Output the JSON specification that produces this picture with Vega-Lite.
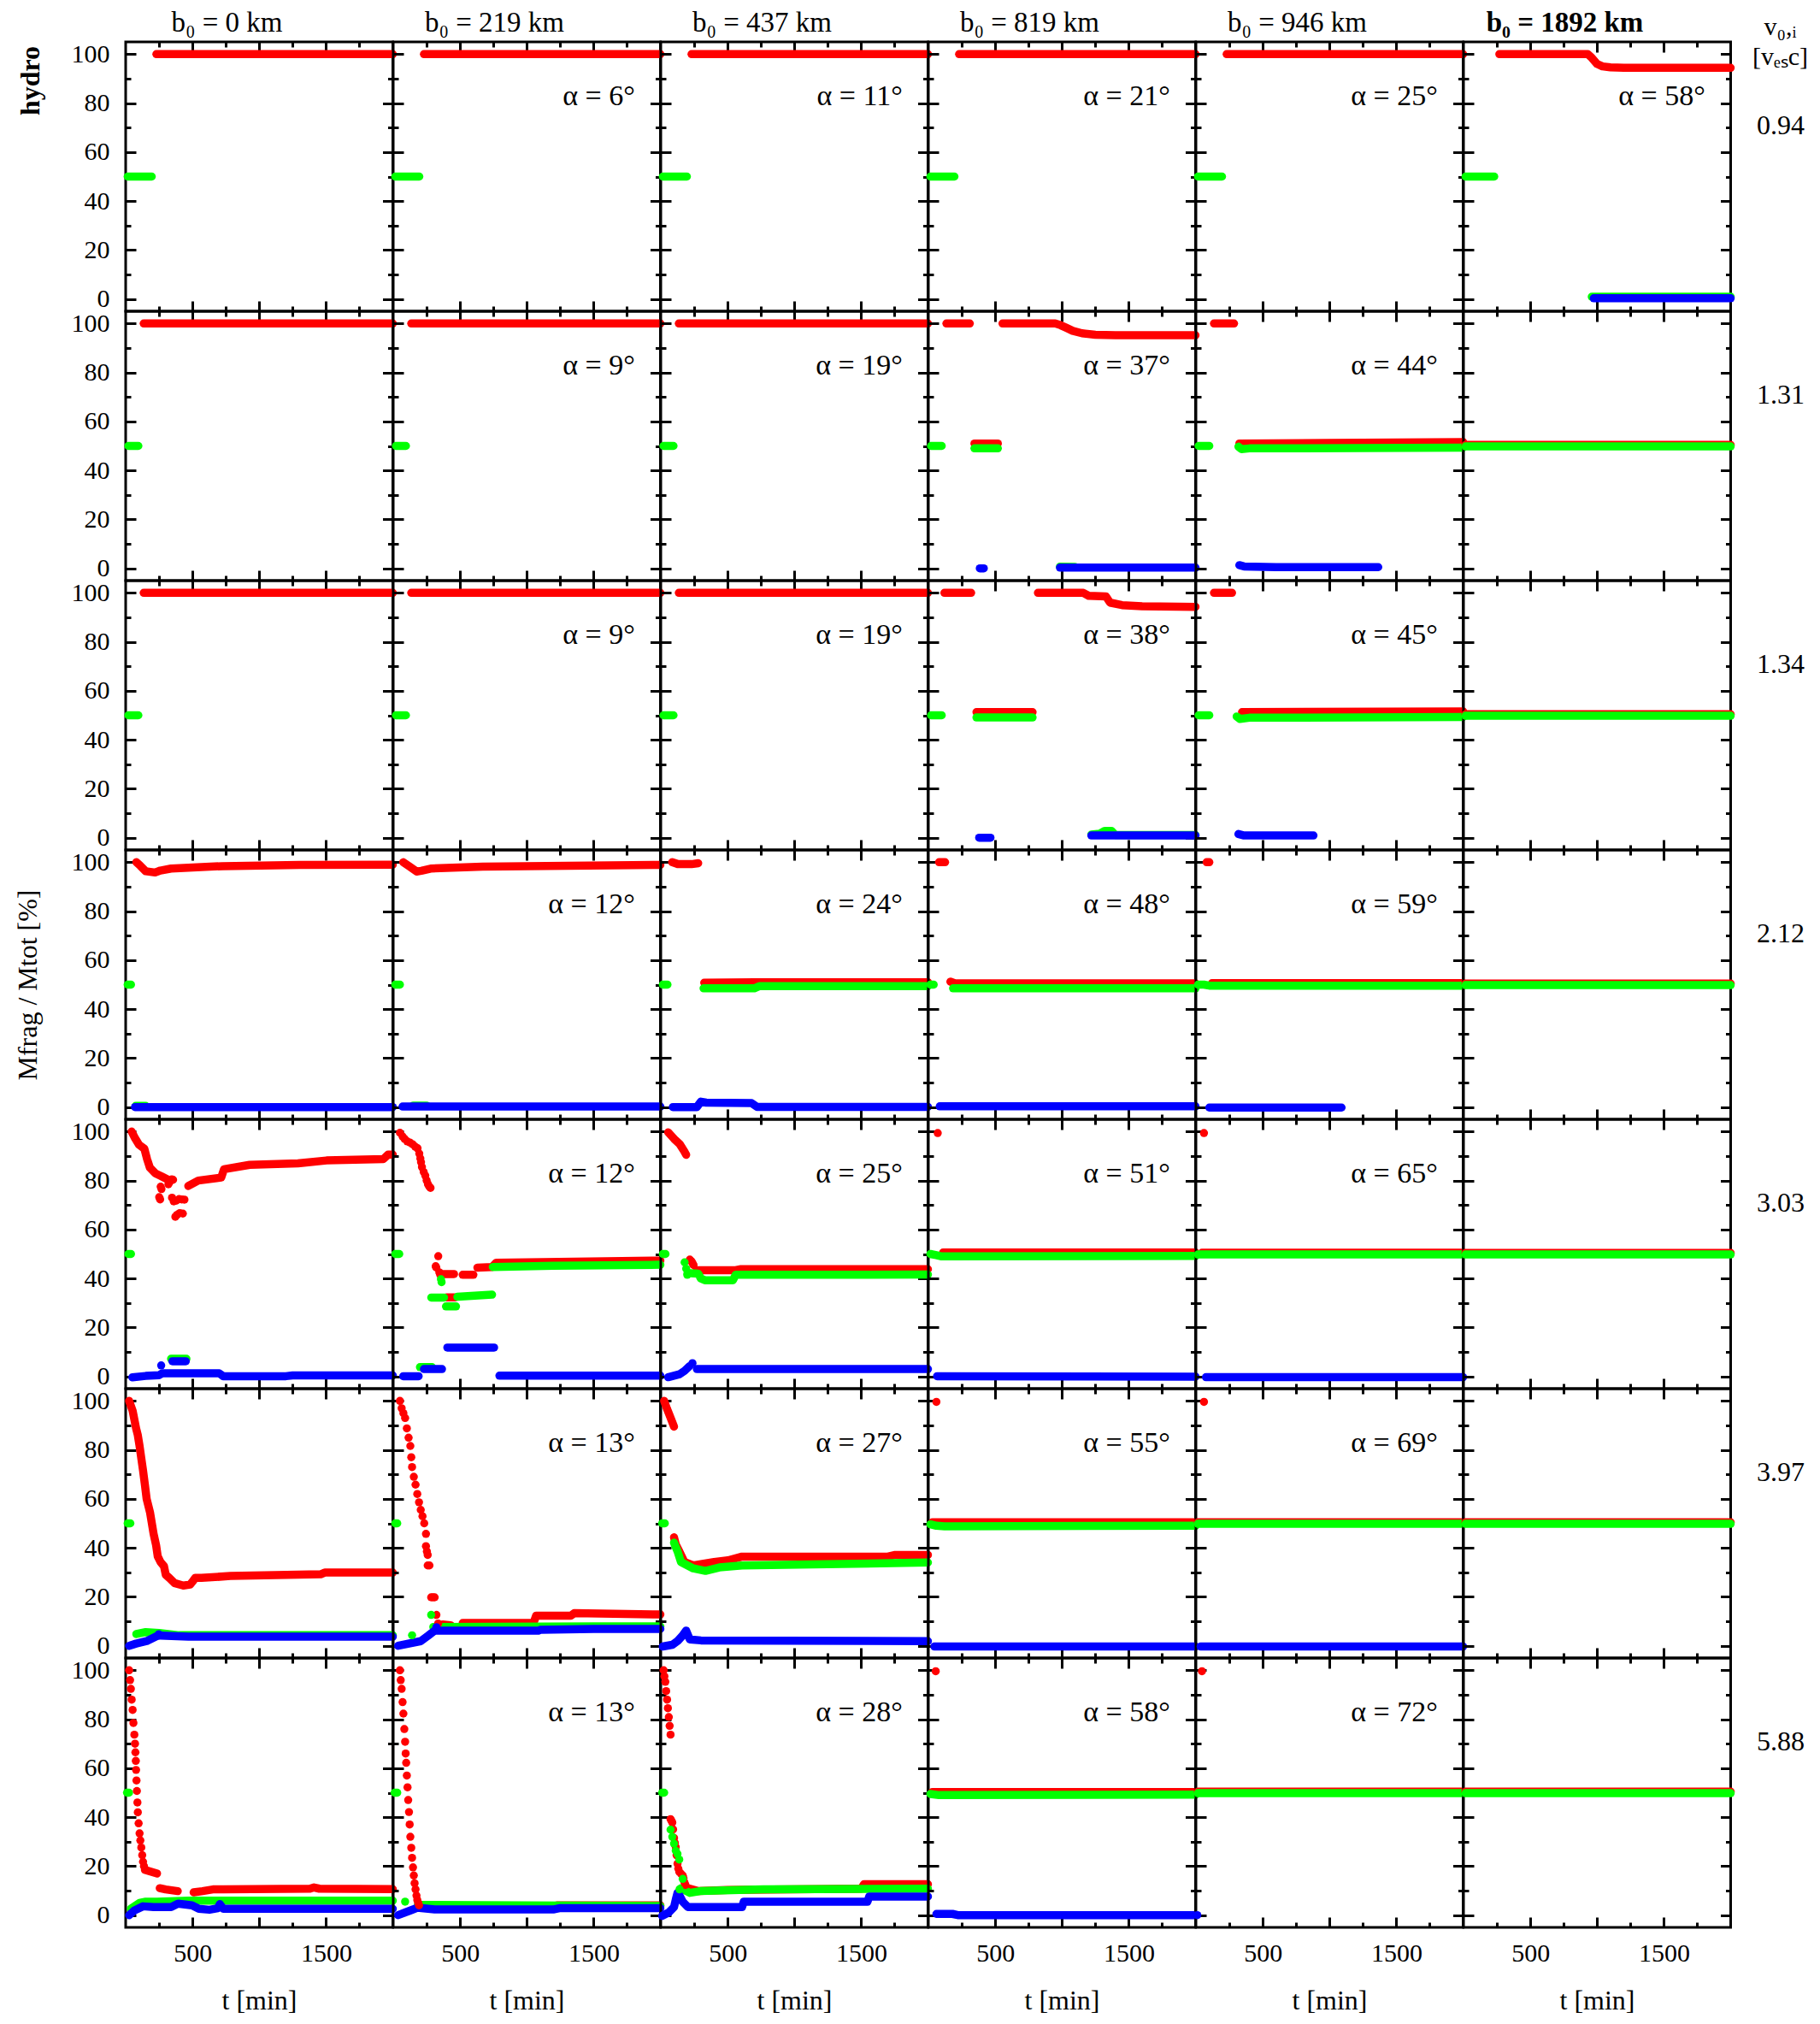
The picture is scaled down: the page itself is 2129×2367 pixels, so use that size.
{
"$schema":"https://vega.github.io/schema/vega-lite/v6.json",
"background":"white",
"padding":{"left":14,"top":8,"right":0,"bottom":0},
"autosize":{"type":"pad"},
"columns":6,"spacing":0,"bounds":"flush",
"config":{
 "view":{"stroke":"black","strokeWidth":3},
 "line":{"strokeWidth":9.5,"strokeCap":"round","strokeJoin":"round"},
 "circle":{"size":90,"opacity":1},
 "text":{"font":"Liberation Serif","fontSize":34,"align":"right","baseline":"alphabetic","color":"black"},
 "axis":{"domain":false,"grid":false,"tickColor":"black","tickWidth":3,"labelFont":"Liberation Serif","labelFontSize":30,"labelColor":"black","titleFont":"Liberation Serif","titleFontSize":32,"titleColor":"black","titleFontWeight":"normal","labelFlush":false,"labelOverlap":false},
 "axisLeft":{"labelPadding":31},
 "axisBottom":{"labelPadding":27}
},
"datasets":{
"L":[
{"p":11,"s":"r","g":1,"t":230,"v":100},{"p":11,"s":"r","g":1,"t":2000,"v":100},
{"p":12,"s":"r","g":1,"t":230,"v":100},{"p":12,"s":"r","g":1,"t":2000,"v":100},
{"p":13,"s":"r","g":1,"t":230,"v":100},{"p":13,"s":"r","g":1,"t":2000,"v":100},
{"p":14,"s":"r","g":1,"t":230,"v":100},{"p":14,"s":"r","g":1,"t":2000,"v":100},
{"p":15,"s":"r","g":1,"t":230,"v":100},{"p":15,"s":"r","g":1,"t":2000,"v":100},
{"p":16,"s":"r","g":1,"t":268,"v":100},{"p":16,"s":"r","g":1,"t":930,"v":100},{"p":16,"s":"r","g":1,"t":960,"v":98.5},{"p":16,"s":"r","g":1,"t":1000,"v":96},{"p":16,"s":"r","g":1,"t":1040,"v":95},{"p":16,"s":"r","g":1,"t":1100,"v":94.6},{"p":16,"s":"r","g":1,"t":1200,"v":94.4},{"p":16,"s":"r","g":1,"t":2000,"v":94.4},
{"p":21,"s":"r","g":1,"t":135,"v":100},{"p":21,"s":"r","g":1,"t":2000,"v":100},
{"p":22,"s":"r","g":1,"t":135,"v":100},{"p":22,"s":"r","g":1,"t":2000,"v":100},
{"p":23,"s":"r","g":1,"t":135,"v":100},{"p":23,"s":"r","g":1,"t":2000,"v":100},
{"p":24,"s":"r","g":1,"t":135,"v":100},{"p":24,"s":"r","g":1,"t":310,"v":100},
{"p":24,"s":"r","g":2,"t":555,"v":100},{"p":24,"s":"r","g":2,"t":950,"v":100},{"p":24,"s":"r","g":2,"t":990,"v":99.3},{"p":24,"s":"r","g":2,"t":1030,"v":98.3},{"p":24,"s":"r","g":2,"t":1080,"v":97},{"p":24,"s":"r","g":2,"t":1150,"v":96},{"p":24,"s":"r","g":2,"t":1250,"v":95.4},{"p":24,"s":"r","g":2,"t":1400,"v":95.2},{"p":24,"s":"r","g":2,"t":2000,"v":95.2},
{"p":24,"s":"r","g":3,"t":345,"v":51},{"p":24,"s":"r","g":3,"t":520,"v":51},
{"p":25,"s":"r","g":1,"t":135,"v":100},{"p":25,"s":"r","g":1,"t":285,"v":100},
{"p":25,"s":"r","g":2,"t":325,"v":51},{"p":25,"s":"r","g":2,"t":1000,"v":51.2},{"p":25,"s":"r","g":2,"t":2000,"v":51.6},
{"p":26,"s":"r","g":1,"t":15,"v":50.4},{"p":26,"s":"r","g":1,"t":2000,"v":50.4},
{"p":31,"s":"r","g":1,"t":135,"v":100},{"p":31,"s":"r","g":1,"t":2000,"v":100},
{"p":32,"s":"r","g":1,"t":135,"v":100},{"p":32,"s":"r","g":1,"t":2000,"v":100},
{"p":33,"s":"r","g":1,"t":135,"v":100},{"p":33,"s":"r","g":1,"t":2000,"v":100},
{"p":34,"s":"r","g":1,"t":120,"v":100},{"p":34,"s":"r","g":1,"t":320,"v":100},
{"p":34,"s":"r","g":2,"t":820,"v":100},{"p":34,"s":"r","g":2,"t":1160,"v":100},{"p":34,"s":"r","g":2,"t":1200,"v":98.8},{"p":34,"s":"r","g":2,"t":1330,"v":98.5},{"p":34,"s":"r","g":2,"t":1360,"v":96},{"p":34,"s":"r","g":2,"t":1450,"v":95},{"p":34,"s":"r","g":2,"t":1600,"v":94.5},{"p":34,"s":"r","g":2,"t":2000,"v":94.3},
{"p":34,"s":"r","g":3,"t":360,"v":51.3},{"p":34,"s":"r","g":3,"t":780,"v":51.3},
{"p":35,"s":"r","g":1,"t":135,"v":100},{"p":35,"s":"r","g":1,"t":270,"v":100},
{"p":35,"s":"r","g":2,"t":345,"v":51.3},{"p":35,"s":"r","g":2,"t":2000,"v":51.6},
{"p":36,"s":"r","g":1,"t":15,"v":50.4},{"p":36,"s":"r","g":1,"t":2000,"v":50.4},
{"p":41,"s":"r","g":1,"t":80,"v":100},{"p":41,"s":"r","g":1,"t":110,"v":98.5},{"p":41,"s":"r","g":1,"t":150,"v":96.3},{"p":41,"s":"r","g":1,"t":220,"v":95.8},{"p":41,"s":"r","g":1,"t":260,"v":96.6},{"p":41,"s":"r","g":1,"t":340,"v":97.4},{"p":41,"s":"r","g":1,"t":725,"v":98.4},{"p":41,"s":"r","g":1,"t":1300,"v":98.9},{"p":41,"s":"r","g":1,"t":2000,"v":99},
{"p":42,"s":"r","g":1,"t":75,"v":100},{"p":42,"s":"r","g":1,"t":120,"v":98.3},{"p":42,"s":"r","g":1,"t":175,"v":96.2},{"p":42,"s":"r","g":1,"t":210,"v":96.5},{"p":42,"s":"r","g":1,"t":280,"v":97.4},{"p":42,"s":"r","g":1,"t":670,"v":98.2},{"p":42,"s":"r","g":1,"t":2000,"v":98.9},
{"p":43,"s":"r","g":1,"t":85,"v":100},{"p":43,"s":"r","g":1,"t":130,"v":99.2},{"p":43,"s":"r","g":1,"t":230,"v":99.2},{"p":43,"s":"r","g":1,"t":280,"v":99.6},
{"p":43,"s":"r","g":2,"t":325,"v":50.8},{"p":43,"s":"r","g":2,"t":700,"v":51},{"p":43,"s":"r","g":2,"t":2000,"v":51},
{"p":44,"s":"r","g":1,"t":80,"v":100},{"p":44,"s":"r","g":1,"t":125,"v":100},
{"p":44,"s":"r","g":2,"t":165,"v":51.2},{"p":44,"s":"r","g":2,"t":200,"v":50.5},{"p":44,"s":"r","g":2,"t":2000,"v":50.5},
{"p":45,"s":"r","g":1,"t":80,"v":100},{"p":45,"s":"r","g":1,"t":100,"v":100},
{"p":45,"s":"r","g":2,"t":120,"v":50.6},{"p":45,"s":"r","g":2,"t":2000,"v":50.6},
{"p":46,"s":"r","g":1,"t":15,"v":50.4},{"p":46,"s":"r","g":1,"t":2000,"v":50.4},
{"p":51,"s":"r","g":1,"t":45,"v":100},{"p":51,"s":"r","g":1,"t":70,"v":97.3},{"p":51,"s":"r","g":1,"t":100,"v":94.6},{"p":51,"s":"r","g":1,"t":140,"v":93},{"p":51,"s":"r","g":1,"t":160,"v":88.8},{"p":51,"s":"r","g":1,"t":181,"v":85.3},{"p":51,"s":"r","g":1,"t":223,"v":82.9},{"p":51,"s":"r","g":1,"t":266,"v":81.8},{"p":51,"s":"r","g":1,"t":316,"v":80.4},
{"p":51,"s":"r","g":2,"t":469,"v":77.8},{"p":51,"s":"r","g":2,"t":544,"v":80},{"p":51,"s":"r","g":2,"t":715,"v":81.2},{"p":51,"s":"r","g":2,"t":736,"v":84.6},{"p":51,"s":"r","g":2,"t":928,"v":86.4},{"p":51,"s":"r","g":2,"t":1290,"v":87},{"p":51,"s":"r","g":2,"t":1504,"v":88.2},{"p":51,"s":"r","g":2,"t":1930,"v":88.8},{"p":51,"s":"r","g":2,"t":1965,"v":90.6},{"p":51,"s":"r","g":2,"t":2000,"v":90.6},
{"p":52,"s":"r","g":1,"t":375,"v":41.8},{"p":52,"s":"r","g":1,"t":455,"v":41.8},
{"p":52,"s":"r","g":2,"t":520,"v":41.5},{"p":52,"s":"r","g":2,"t":600,"v":41.5},
{"p":52,"s":"r","g":3,"t":630,"v":44.4},{"p":52,"s":"r","g":3,"t":740,"v":44.7},{"p":52,"s":"r","g":3,"t":770,"v":46.4},{"p":52,"s":"r","g":3,"t":2000,"v":47.3},
{"p":52,"s":"r","g":4,"t":400,"v":32.3},{"p":52,"s":"r","g":4,"t":465,"v":32.3},
{"p":53,"s":"r","g":1,"t":55,"v":99.7},{"p":53,"s":"r","g":1,"t":100,"v":97},{"p":53,"s":"r","g":1,"t":140,"v":95},{"p":53,"s":"r","g":1,"t":175,"v":92},{"p":53,"s":"r","g":1,"t":190,"v":90.5},
{"p":53,"s":"r","g":2,"t":270,"v":43.4},{"p":53,"s":"r","g":2,"t":560,"v":43.4},{"p":53,"s":"r","g":2,"t":600,"v":43.8},{"p":53,"s":"r","g":2,"t":2000,"v":43.8},
{"p":54,"s":"r","g":1,"t":110,"v":50.6},{"p":54,"s":"r","g":1,"t":2000,"v":50.6},
{"p":55,"s":"r","g":1,"t":45,"v":50.5},{"p":55,"s":"r","g":1,"t":2000,"v":50.5},
{"p":56,"s":"r","g":1,"t":15,"v":50.4},{"p":56,"s":"r","g":1,"t":2000,"v":50.4},
{"p":61,"s":"r","g":1,"t":26,"v":100},{"p":61,"s":"r","g":1,"t":52,"v":96},{"p":61,"s":"r","g":1,"t":78,"v":88.8},{"p":61,"s":"r","g":1,"t":91,"v":86},{"p":61,"s":"r","g":1,"t":104,"v":81.6},{"p":61,"s":"r","g":1,"t":117,"v":76.6},{"p":61,"s":"r","g":1,"t":130,"v":71.6},{"p":61,"s":"r","g":1,"t":144,"v":65.8},{"p":61,"s":"r","g":1,"t":157,"v":60},{"p":61,"s":"r","g":1,"t":183,"v":54.3},{"p":61,"s":"r","g":1,"t":196,"v":50},{"p":61,"s":"r","g":1,"t":209,"v":45.7},{"p":61,"s":"r","g":1,"t":228,"v":41},{"p":61,"s":"r","g":1,"t":240,"v":36.5},{"p":61,"s":"r","g":1,"t":261,"v":34.2},{"p":61,"s":"r","g":1,"t":287,"v":32.5},{"p":61,"s":"r","g":1,"t":300,"v":29},{"p":61,"s":"r","g":1,"t":327,"v":27.7},{"p":61,"s":"r","g":1,"t":366,"v":25.6},{"p":61,"s":"r","g":1,"t":431,"v":24.6},{"p":61,"s":"r","g":1,"t":483,"v":25},{"p":61,"s":"r","g":1,"t":505,"v":26.5},{"p":61,"s":"r","g":1,"t":520,"v":27.7},{"p":61,"s":"r","g":1,"t":567,"v":27.7},{"p":61,"s":"r","g":1,"t":784,"v":28.5},{"p":61,"s":"r","g":1,"t":1460,"v":29.2},{"p":61,"s":"r","g":1,"t":1490,"v":29.9},{"p":61,"s":"r","g":1,"t":2000,"v":29.9},
{"p":62,"s":"r","g":1,"t":370,"v":8.7},{"p":62,"s":"r","g":1,"t":430,"v":8.4},
{"p":62,"s":"r","g":2,"t":520,"v":9.3},{"p":62,"s":"r","g":2,"t":1050,"v":9.3},{"p":62,"s":"r","g":2,"t":1070,"v":12.3},{"p":62,"s":"r","g":2,"t":1330,"v":12.3},{"p":62,"s":"r","g":2,"t":1355,"v":13.3},{"p":62,"s":"r","g":2,"t":2000,"v":12.8},
{"p":63,"s":"r","g":1,"t":25,"v":100},{"p":63,"s":"r","g":1,"t":47,"v":96.7},{"p":63,"s":"r","g":1,"t":73,"v":93.1},{"p":63,"s":"r","g":1,"t":99,"v":89.5},
{"p":63,"s":"r","g":2,"t":99,"v":44.3},{"p":63,"s":"r","g":2,"t":112,"v":41.4},{"p":63,"s":"r","g":2,"t":138,"v":38.6},{"p":63,"s":"r","g":2,"t":177,"v":34.2},{"p":63,"s":"r","g":2,"t":243,"v":32.8},{"p":63,"s":"r","g":2,"t":321,"v":33.5},{"p":63,"s":"r","g":2,"t":399,"v":34.2},{"p":63,"s":"r","g":2,"t":503,"v":34.9},{"p":63,"s":"r","g":2,"t":608,"v":36.4},{"p":63,"s":"r","g":2,"t":1700,"v":36.4},{"p":63,"s":"r","g":2,"t":1755,"v":37.1},{"p":63,"s":"r","g":2,"t":2000,"v":37.1},
{"p":64,"s":"r","g":1,"t":30,"v":50.4},{"p":64,"s":"r","g":1,"t":2000,"v":50.4},
{"p":65,"s":"r","g":1,"t":15,"v":50.4},{"p":65,"s":"r","g":1,"t":2000,"v":50.4},
{"p":66,"s":"r","g":1,"t":15,"v":50.4},{"p":66,"s":"r","g":1,"t":2000,"v":50.4},
{"p":71,"s":"r","g":1,"t":144,"v":18.5},{"p":71,"s":"r","g":1,"t":235,"v":17},
{"p":71,"s":"r","g":2,"t":255,"v":11},{"p":71,"s":"r","g":2,"t":300,"v":10.5},{"p":71,"s":"r","g":2,"t":390,"v":9.8},
{"p":71,"s":"r","g":3,"t":509,"v":9.3},{"p":71,"s":"r","g":3,"t":575,"v":9.8},{"p":71,"s":"r","g":3,"t":653,"v":10.5},{"p":71,"s":"r","g":3,"t":731,"v":10.5},{"p":71,"s":"r","g":3,"t":1380,"v":10.8},{"p":71,"s":"r","g":3,"t":1410,"v":11.3},{"p":71,"s":"r","g":3,"t":1450,"v":10.8},{"p":71,"s":"r","g":3,"t":2000,"v":10.6},
{"p":72,"s":"r","g":1,"t":200,"v":3.6},{"p":72,"s":"r","g":1,"t":310,"v":3.3},{"p":72,"s":"r","g":1,"t":1198,"v":3.3},{"p":72,"s":"r","g":1,"t":1225,"v":4},{"p":72,"s":"r","g":1,"t":2000,"v":4},
{"p":73,"s":"r","g":1,"t":190,"v":11.2},{"p":73,"s":"r","g":1,"t":282,"v":9.8},{"p":73,"s":"r","g":1,"t":500,"v":10.3},{"p":73,"s":"r","g":1,"t":1500,"v":10.8},{"p":73,"s":"r","g":1,"t":1521,"v":12.6},{"p":73,"s":"r","g":1,"t":2000,"v":12.6},
{"p":74,"s":"r","g":1,"t":30,"v":50.3},{"p":74,"s":"r","g":1,"t":2000,"v":50.3},
{"p":75,"s":"r","g":1,"t":15,"v":50.4},{"p":75,"s":"r","g":1,"t":2000,"v":50.4},
{"p":76,"s":"r","g":1,"t":15,"v":50.4},{"p":76,"s":"r","g":1,"t":2000,"v":50.4},
{"p":11,"s":"g","g":1,"t":15,"v":50},{"p":11,"s":"g","g":1,"t":195,"v":50},
{"p":12,"s":"g","g":1,"t":15,"v":50},{"p":12,"s":"g","g":1,"t":195,"v":50},
{"p":13,"s":"g","g":1,"t":15,"v":50},{"p":13,"s":"g","g":1,"t":195,"v":50},
{"p":14,"s":"g","g":1,"t":15,"v":50},{"p":14,"s":"g","g":1,"t":195,"v":50},
{"p":15,"s":"g","g":1,"t":15,"v":50},{"p":15,"s":"g","g":1,"t":195,"v":50},
{"p":16,"s":"g","g":1,"t":15,"v":50},{"p":16,"s":"g","g":1,"t":230,"v":50},
{"p":16,"s":"g","g":2,"t":960,"v":0.9},{"p":16,"s":"g","g":2,"t":2000,"v":0.9},
{"p":21,"s":"g","g":1,"t":20,"v":50},{"p":21,"s":"g","g":1,"t":95,"v":50},
{"p":22,"s":"g","g":1,"t":20,"v":50},{"p":22,"s":"g","g":1,"t":95,"v":50},
{"p":23,"s":"g","g":1,"t":20,"v":50},{"p":23,"s":"g","g":1,"t":95,"v":50},
{"p":24,"s":"g","g":1,"t":20,"v":50},{"p":24,"s":"g","g":1,"t":100,"v":50},
{"p":24,"s":"g","g":2,"t":345,"v":49},{"p":24,"s":"g","g":2,"t":520,"v":49},
{"p":24,"s":"g","g":3,"t":985,"v":0.7},{"p":24,"s":"g","g":3,"t":1100,"v":0.6},
{"p":25,"s":"g","g":1,"t":20,"v":50},{"p":25,"s":"g","g":1,"t":100,"v":50},
{"p":25,"s":"g","g":2,"t":318,"v":49.7},{"p":25,"s":"g","g":2,"t":340,"v":48.7},{"p":25,"s":"g","g":2,"t":400,"v":49},{"p":25,"s":"g","g":2,"t":2000,"v":49.3},
{"p":26,"s":"g","g":1,"t":15,"v":49.8},{"p":26,"s":"g","g":1,"t":2000,"v":49.8},
{"p":31,"s":"g","g":1,"t":20,"v":50},{"p":31,"s":"g","g":1,"t":95,"v":50},
{"p":32,"s":"g","g":1,"t":20,"v":50},{"p":32,"s":"g","g":1,"t":95,"v":50},
{"p":33,"s":"g","g":1,"t":20,"v":50},{"p":33,"s":"g","g":1,"t":95,"v":50},
{"p":34,"s":"g","g":1,"t":20,"v":50},{"p":34,"s":"g","g":1,"t":100,"v":50},
{"p":34,"s":"g","g":2,"t":360,"v":49.1},{"p":34,"s":"g","g":2,"t":780,"v":49.1},
{"p":34,"s":"g","g":3,"t":1220,"v":1.3},{"p":34,"s":"g","g":3,"t":1280,"v":1.6},{"p":34,"s":"g","g":3,"t":1320,"v":2.8},{"p":34,"s":"g","g":3,"t":1370,"v":2.8},{"p":34,"s":"g","g":3,"t":1400,"v":1.1},{"p":34,"s":"g","g":3,"t":2000,"v":1.1},
{"p":35,"s":"g","g":1,"t":20,"v":50},{"p":35,"s":"g","g":1,"t":100,"v":50},
{"p":35,"s":"g","g":2,"t":305,"v":49.5},{"p":35,"s":"g","g":2,"t":330,"v":48.5},{"p":35,"s":"g","g":2,"t":400,"v":49},{"p":35,"s":"g","g":2,"t":2000,"v":49.3},
{"p":36,"s":"g","g":1,"t":15,"v":49.8},{"p":36,"s":"g","g":1,"t":2000,"v":49.8},
{"p":41,"s":"g","g":1,"t":15,"v":50},{"p":41,"s":"g","g":1,"t":40,"v":50},
{"p":41,"s":"g","g":2,"t":75,"v":0.5},{"p":41,"s":"g","g":2,"t":150,"v":0.5},
{"p":42,"s":"g","g":1,"t":15,"v":50},{"p":42,"s":"g","g":1,"t":50,"v":50},
{"p":42,"s":"g","g":2,"t":150,"v":0.6},{"p":42,"s":"g","g":2,"t":250,"v":0.6},
{"p":43,"s":"g","g":1,"t":15,"v":50},{"p":43,"s":"g","g":1,"t":50,"v":50},
{"p":43,"s":"g","g":2,"t":320,"v":48.5},{"p":43,"s":"g","g":2,"t":700,"v":48.5},{"p":43,"s":"g","g":2,"t":740,"v":49.4},{"p":43,"s":"g","g":2,"t":2000,"v":49.4},
{"p":44,"s":"g","g":1,"t":15,"v":50},{"p":44,"s":"g","g":1,"t":40,"v":50},
{"p":44,"s":"g","g":2,"t":185,"v":48.5},{"p":44,"s":"g","g":2,"t":2000,"v":48.5},
{"p":45,"s":"g","g":1,"t":15,"v":50},{"p":45,"s":"g","g":1,"t":60,"v":50},{"p":45,"s":"g","g":1,"t":100,"v":49.6},{"p":45,"s":"g","g":1,"t":2000,"v":49.6},
{"p":46,"s":"g","g":1,"t":15,"v":49.8},{"p":46,"s":"g","g":1,"t":2000,"v":49.8},
{"p":51,"s":"g","g":1,"t":20,"v":50},{"p":51,"s":"g","g":1,"t":40,"v":50},
{"p":51,"s":"g","g":2,"t":340,"v":7.2},{"p":51,"s":"g","g":2,"t":455,"v":7.2},
{"p":52,"s":"g","g":1,"t":15,"v":50},{"p":52,"s":"g","g":1,"t":45,"v":50},
{"p":52,"s":"g","g":2,"t":285,"v":32.2},{"p":52,"s":"g","g":2,"t":380,"v":32.2},
{"p":52,"s":"g","g":3,"t":395,"v":28.6},{"p":52,"s":"g","g":3,"t":470,"v":28.6},
{"p":52,"s":"g","g":4,"t":480,"v":32.5},{"p":52,"s":"g","g":4,"t":740,"v":33.4},
{"p":52,"s":"g","g":5,"t":745,"v":44.7},{"p":52,"s":"g","g":5,"t":1200,"v":45.2},{"p":52,"s":"g","g":5,"t":2000,"v":45.6},
{"p":52,"s":"g","g":6,"t":200,"v":3.8},{"p":52,"s":"g","g":6,"t":290,"v":3.8},
{"p":53,"s":"g","g":1,"t":15,"v":50},{"p":53,"s":"g","g":1,"t":35,"v":50},
{"p":53,"s":"g","g":2,"t":200,"v":42.2},{"p":53,"s":"g","g":2,"t":280,"v":42},{"p":53,"s":"g","g":2,"t":300,"v":40},{"p":53,"s":"g","g":2,"t":330,"v":39.3},{"p":53,"s":"g","g":2,"t":540,"v":39.3},{"p":53,"s":"g","g":2,"t":560,"v":41.5},{"p":53,"s":"g","g":2,"t":2000,"v":41.6},
{"p":54,"s":"g","g":1,"t":15,"v":50},{"p":54,"s":"g","g":1,"t":60,"v":49.5},{"p":54,"s":"g","g":1,"t":100,"v":49},{"p":54,"s":"g","g":1,"t":2000,"v":49.2},
{"p":55,"s":"g","g":1,"t":15,"v":49.8},{"p":55,"s":"g","g":1,"t":2000,"v":49.8},
{"p":56,"s":"g","g":1,"t":15,"v":49.8},{"p":56,"s":"g","g":1,"t":2000,"v":49.8},
{"p":61,"s":"g","g":1,"t":15,"v":50},{"p":61,"s":"g","g":1,"t":35,"v":50},
{"p":61,"s":"g","g":2,"t":80,"v":4.8},{"p":61,"s":"g","g":2,"t":150,"v":5.6},{"p":61,"s":"g","g":2,"t":250,"v":5.2},{"p":61,"s":"g","g":2,"t":400,"v":4.3},{"p":61,"s":"g","g":2,"t":2000,"v":4.3},
{"p":62,"s":"g","g":1,"t":15,"v":50},{"p":62,"s":"g","g":1,"t":30,"v":50},
{"p":62,"s":"g","g":2,"t":300,"v":7.7},{"p":62,"s":"g","g":2,"t":1500,"v":7.9},{"p":62,"s":"g","g":2,"t":2000,"v":7.9},
{"p":63,"s":"g","g":1,"t":10,"v":50},{"p":63,"s":"g","g":1,"t":30,"v":50},
{"p":63,"s":"g","g":2,"t":99,"v":42.1},{"p":63,"s":"g","g":2,"t":125,"v":38.6},{"p":63,"s":"g","g":2,"t":151,"v":34.2},{"p":63,"s":"g","g":2,"t":243,"v":31.6},{"p":63,"s":"g","g":2,"t":334,"v":30.6},{"p":63,"s":"g","g":2,"t":438,"v":32},{"p":63,"s":"g","g":2,"t":608,"v":32.8},{"p":63,"s":"g","g":2,"t":2000,"v":34},
{"p":64,"s":"g","g":1,"t":15,"v":49.6},{"p":64,"s":"g","g":1,"t":60,"v":49},{"p":64,"s":"g","g":1,"t":120,"v":48.8},{"p":64,"s":"g","g":1,"t":2000,"v":49},
{"p":65,"s":"g","g":1,"t":15,"v":49.8},{"p":65,"s":"g","g":1,"t":2000,"v":49.8},
{"p":66,"s":"g","g":1,"t":15,"v":49.8},{"p":66,"s":"g","g":1,"t":2000,"v":49.8},
{"p":71,"s":"g","g":1,"t":10,"v":50},{"p":71,"s":"g","g":1,"t":25,"v":50},
{"p":71,"s":"g","g":2,"t":39,"v":2.6},{"p":71,"s":"g","g":2,"t":104,"v":5},{"p":71,"s":"g","g":2,"t":150,"v":5.5},{"p":71,"s":"g","g":2,"t":235,"v":5.5},{"p":71,"s":"g","g":2,"t":470,"v":5.9},{"p":71,"s":"g","g":2,"t":2000,"v":5.9},
{"p":72,"s":"g","g":1,"t":10,"v":50},{"p":72,"s":"g","g":1,"t":30,"v":50},
{"p":72,"s":"g","g":2,"t":185,"v":4.2},{"p":72,"s":"g","g":2,"t":2000,"v":3.7},
{"p":73,"s":"g","g":1,"t":10,"v":50},{"p":73,"s":"g","g":1,"t":25,"v":50},
{"p":73,"s":"g","g":2,"t":150,"v":11},{"p":73,"s":"g","g":2,"t":217,"v":9.1},{"p":73,"s":"g","g":2,"t":295,"v":9.8},{"p":73,"s":"g","g":2,"t":764,"v":10.5},{"p":73,"s":"g","g":2,"t":2000,"v":10.8},
{"p":74,"s":"g","g":1,"t":15,"v":49.5},{"p":74,"s":"g","g":1,"t":80,"v":49},{"p":74,"s":"g","g":1,"t":2000,"v":49.2},
{"p":75,"s":"g","g":1,"t":15,"v":49.8},{"p":75,"s":"g","g":1,"t":2000,"v":49.8},
{"p":76,"s":"g","g":1,"t":15,"v":49.8},{"p":76,"s":"g","g":1,"t":2000,"v":49.8},
{"p":16,"s":"b","g":1,"t":975,"v":0.3},{"p":16,"s":"b","g":1,"t":2000,"v":0.3},
{"p":24,"s":"b","g":1,"t":385,"v":0},{"p":24,"s":"b","g":1,"t":415,"v":0},
{"p":24,"s":"b","g":2,"t":985,"v":0.3},{"p":24,"s":"b","g":2,"t":2000,"v":0.3},
{"p":25,"s":"b","g":1,"t":325,"v":1.3},{"p":25,"s":"b","g":1,"t":360,"v":0.8},{"p":25,"s":"b","g":1,"t":600,"v":0.5},{"p":25,"s":"b","g":1,"t":1365,"v":0.5},
{"p":34,"s":"b","g":1,"t":380,"v":0},{"p":34,"s":"b","g":1,"t":465,"v":0},
{"p":34,"s":"b","g":2,"t":1220,"v":0.9},{"p":34,"s":"b","g":2,"t":2000,"v":0.9},
{"p":35,"s":"b","g":1,"t":318,"v":1.5},{"p":35,"s":"b","g":1,"t":360,"v":0.9},{"p":35,"s":"b","g":1,"t":880,"v":0.9},
{"p":41,"s":"b","g":1,"t":70,"v":0},{"p":41,"s":"b","g":1,"t":2000,"v":0},
{"p":42,"s":"b","g":1,"t":70,"v":0.2},{"p":42,"s":"b","g":1,"t":2000,"v":0.2},
{"p":43,"s":"b","g":1,"t":90,"v":0},{"p":43,"s":"b","g":1,"t":270,"v":0},{"p":43,"s":"b","g":1,"t":300,"v":2.2},{"p":43,"s":"b","g":1,"t":340,"v":1.8},{"p":43,"s":"b","g":1,"t":680,"v":1.6},{"p":43,"s":"b","g":1,"t":720,"v":0.1},{"p":43,"s":"b","g":1,"t":2000,"v":0.1},
{"p":44,"s":"b","g":1,"t":85,"v":0.3},{"p":44,"s":"b","g":1,"t":2000,"v":0.3},
{"p":45,"s":"b","g":1,"t":100,"v":-0.2},{"p":45,"s":"b","g":1,"t":1090,"v":-0.2},
{"p":51,"s":"b","g":1,"t":50,"v":-0.4},{"p":51,"s":"b","g":1,"t":150,"v":0.2},{"p":51,"s":"b","g":1,"t":250,"v":0.5},{"p":51,"s":"b","g":1,"t":275,"v":1.3},{"p":51,"s":"b","g":1,"t":700,"v":1.3},{"p":51,"s":"b","g":1,"t":730,"v":0.1},{"p":51,"s":"b","g":1,"t":1200,"v":0.1},{"p":51,"s":"b","g":1,"t":1250,"v":0.4},{"p":51,"s":"b","g":1,"t":2000,"v":0.4},
{"p":51,"s":"b","g":2,"t":350,"v":6.2},{"p":51,"s":"b","g":2,"t":450,"v":6.2},
{"p":52,"s":"b","g":1,"t":75,"v":0.1},{"p":52,"s":"b","g":1,"t":190,"v":0.1},
{"p":52,"s":"b","g":2,"t":230,"v":3},{"p":52,"s":"b","g":2,"t":365,"v":3},
{"p":52,"s":"b","g":3,"t":405,"v":11.8},{"p":52,"s":"b","g":3,"t":755,"v":11.8},
{"p":52,"s":"b","g":4,"t":795,"v":0.3},{"p":52,"s":"b","g":4,"t":2000,"v":0.3},
{"p":53,"s":"b","g":1,"t":55,"v":-0.3},{"p":53,"s":"b","g":1,"t":140,"v":0.9},{"p":53,"s":"b","g":1,"t":178,"v":2.3},{"p":53,"s":"b","g":1,"t":215,"v":4.2},
{"p":53,"s":"b","g":2,"t":270,"v":3},{"p":53,"s":"b","g":2,"t":2000,"v":3},
{"p":54,"s":"b","g":1,"t":65,"v":0.1},{"p":54,"s":"b","g":1,"t":2000,"v":-0.1},
{"p":55,"s":"b","g":1,"t":75,"v":-0.3},{"p":55,"s":"b","g":1,"t":2000,"v":-0.3},
{"p":61,"s":"b","g":1,"t":26,"v":0},{"p":61,"s":"b","g":1,"t":78,"v":0.9},{"p":61,"s":"b","g":1,"t":157,"v":1.9},{"p":61,"s":"b","g":1,"t":235,"v":4},{"p":61,"s":"b","g":1,"t":260,"v":4.2},{"p":61,"s":"b","g":1,"t":470,"v":3.7},{"p":61,"s":"b","g":1,"t":2000,"v":3.7},
{"p":62,"s":"b","g":1,"t":37,"v":0},{"p":62,"s":"b","g":1,"t":206,"v":1.9},{"p":62,"s":"b","g":1,"t":258,"v":4},{"p":62,"s":"b","g":1,"t":310,"v":6.2},{"p":62,"s":"b","g":1,"t":1090,"v":6.2},{"p":62,"s":"b","g":1,"t":1100,"v":6.5},{"p":62,"s":"b","g":1,"t":1500,"v":6.9},{"p":62,"s":"b","g":1,"t":2000,"v":6.9},
{"p":63,"s":"b","g":1,"t":15,"v":-0.3},{"p":63,"s":"b","g":1,"t":86,"v":0.4},{"p":63,"s":"b","g":1,"t":125,"v":1.9},{"p":63,"s":"b","g":1,"t":160,"v":4},{"p":63,"s":"b","g":1,"t":190,"v":6.2},{"p":63,"s":"b","g":1,"t":217,"v":2.6},{"p":63,"s":"b","g":1,"t":300,"v":2.2},{"p":63,"s":"b","g":1,"t":2000,"v":1.9},
{"p":64,"s":"b","g":1,"t":45,"v":-0.3},{"p":64,"s":"b","g":1,"t":2000,"v":-0.3},
{"p":65,"s":"b","g":1,"t":35,"v":-0.3},{"p":65,"s":"b","g":1,"t":2000,"v":-0.3},
{"p":71,"s":"b","g":1,"t":26,"v":0},{"p":71,"s":"b","g":1,"t":65,"v":1.9},{"p":71,"s":"b","g":1,"t":130,"v":3.6},{"p":71,"s":"b","g":1,"t":209,"v":3.3},{"p":71,"s":"b","g":1,"t":340,"v":3.3},{"p":71,"s":"b","g":1,"t":392,"v":4.7},{"p":71,"s":"b","g":1,"t":497,"v":4},{"p":71,"s":"b","g":1,"t":548,"v":2.6},{"p":71,"s":"b","g":1,"t":627,"v":2.2},{"p":71,"s":"b","g":1,"t":690,"v":2.8},{"p":71,"s":"b","g":1,"t":705,"v":4.5},{"p":71,"s":"b","g":1,"t":731,"v":2.6},{"p":71,"s":"b","g":1,"t":2000,"v":2.6},
{"p":72,"s":"b","g":1,"t":37,"v":0},{"p":72,"s":"b","g":1,"t":128,"v":1.9},{"p":72,"s":"b","g":1,"t":180,"v":3},{"p":72,"s":"b","g":1,"t":310,"v":2.3},{"p":72,"s":"b","g":1,"t":1198,"v":2.3},{"p":72,"s":"b","g":1,"t":1251,"v":2.9},{"p":72,"s":"b","g":1,"t":2000,"v":2.9},
{"p":73,"s":"b","g":1,"t":10,"v":-0.3},{"p":73,"s":"b","g":1,"t":60,"v":1.1},{"p":73,"s":"b","g":1,"t":99,"v":3.3},{"p":73,"s":"b","g":1,"t":115,"v":7},{"p":73,"s":"b","g":1,"t":125,"v":9.1},{"p":73,"s":"b","g":1,"t":140,"v":8},{"p":73,"s":"b","g":1,"t":164,"v":5.5},{"p":73,"s":"b","g":1,"t":203,"v":3.3},{"p":73,"s":"b","g":1,"t":608,"v":3.3},{"p":73,"s":"b","g":1,"t":621,"v":5.5},{"p":73,"s":"b","g":1,"t":1547,"v":5.5},{"p":73,"s":"b","g":1,"t":1560,"v":7.6},{"p":73,"s":"b","g":1,"t":2000,"v":7.6},
{"p":74,"s":"b","g":1,"t":60,"v":0.5},{"p":74,"s":"b","g":1,"t":180,"v":0.5},{"p":74,"s":"b","g":1,"t":220,"v":0},{"p":74,"s":"b","g":1,"t":2000,"v":0}
],
"P":[
{"p":51,"s":"r","t":262,"v":77.5},{"p":51,"s":"r","t":268,"v":76.5},{"p":51,"s":"r","t":251,"v":73.2},{"p":51,"s":"r","t":258,"v":72.3},{"p":51,"s":"r","t":347,"v":73},{"p":51,"s":"r","t":360,"v":71.5},{"p":51,"s":"r","t":378,"v":71.8},{"p":51,"s":"r","t":400,"v":72.4},{"p":51,"s":"r","t":420,"v":72.3},{"p":51,"s":"r","t":440,"v":72.2},{"p":51,"s":"r","t":372,"v":65.2},{"p":51,"s":"r","t":385,"v":66},{"p":51,"s":"r","t":405,"v":66.7},{"p":51,"s":"r","t":428,"v":66.5},{"p":51,"s":"r","t":320,"v":78.5},{"p":51,"s":"r","t":330,"v":79.5},{"p":51,"s":"r","t":345,"v":80.5},{"p":51,"s":"r","t":355,"v":80.3},
{"p":52,"s":"r","t":50,"v":99.5},{"p":52,"s":"r","t":70,"v":98},{"p":52,"s":"r","t":85,"v":97},{"p":52,"s":"r","t":105,"v":96},{"p":52,"s":"r","t":125,"v":95.5},{"p":52,"s":"r","t":145,"v":94.8},{"p":52,"s":"r","t":165,"v":93.8},{"p":52,"s":"r","t":182,"v":93.2},{"p":52,"s":"r","t":195,"v":91},{"p":52,"s":"r","t":203,"v":89},{"p":52,"s":"r","t":208,"v":87.5},{"p":52,"s":"r","t":215,"v":85.5},{"p":52,"s":"r","t":228,"v":83.5},{"p":52,"s":"r","t":240,"v":82},{"p":52,"s":"r","t":250,"v":80},{"p":52,"s":"r","t":260,"v":78.5},{"p":52,"s":"r","t":270,"v":77.5},{"p":52,"s":"r","t":279,"v":77},
{"p":52,"s":"r","t":337,"v":49.1},{"p":52,"s":"r","t":318,"v":45},{"p":52,"s":"r","t":322,"v":44.5},{"p":52,"s":"r","t":345,"v":42.5},{"p":52,"s":"r","t":352,"v":41.5},
{"p":53,"s":"r","t":217,"v":47.7},{"p":53,"s":"r","t":230,"v":47},{"p":53,"s":"r","t":237,"v":46.3},{"p":53,"s":"r","t":245,"v":45.5},
{"p":54,"s":"r","t":70,"v":99.4},
{"p":55,"s":"r","t":60,"v":99.4},
{"p":64,"s":"r","t":60,"v":99.6},
{"p":65,"s":"r","t":60,"v":99.6},
{"p":74,"s":"r","t":55,"v":99.6},
{"p":75,"s":"r","t":45,"v":99.6},
{"p":62,"s":"r","t":50,"v":100},{"p":62,"s":"r","t":63,"v":97},{"p":62,"s":"r","t":76,"v":95},{"p":62,"s":"r","t":89,"v":93},{"p":62,"s":"r","t":102,"v":88.8},{"p":62,"s":"r","t":115,"v":85},{"p":62,"s":"r","t":128,"v":81.6},{"p":62,"s":"r","t":135,"v":77},{"p":62,"s":"r","t":141,"v":73},{"p":62,"s":"r","t":154,"v":69},{"p":62,"s":"r","t":167,"v":65.8},{"p":62,"s":"r","t":180,"v":62},{"p":62,"s":"r","t":193,"v":58.6},{"p":62,"s":"r","t":206,"v":55.5},{"p":62,"s":"r","t":219,"v":52.9},{"p":62,"s":"r","t":232,"v":50},{"p":62,"s":"r","t":245,"v":45.7},{"p":62,"s":"r","t":245,"v":40.7},{"p":62,"s":"r","t":252,"v":38.5},{"p":62,"s":"r","t":258,"v":37.1},{"p":62,"s":"r","t":258,"v":32.8},{"p":62,"s":"r","t":271,"v":32.8},{"p":62,"s":"r","t":284,"v":19.8},{"p":62,"s":"r","t":297,"v":19.8},{"p":62,"s":"r","t":310,"v":19.8},{"p":62,"s":"r","t":323,"v":12.6},{"p":62,"s":"r","t":336,"v":9.1},
{"p":71,"s":"r","t":26,"v":100},{"p":71,"s":"r","t":33,"v":96},{"p":71,"s":"r","t":39,"v":92.4},{"p":71,"s":"r","t":45,"v":88},{"p":71,"s":"r","t":52,"v":83.8},{"p":71,"s":"r","t":58,"v":78.5},{"p":71,"s":"r","t":65,"v":73.7},{"p":71,"s":"r","t":70,"v":70},{"p":71,"s":"r","t":73,"v":66.5},{"p":71,"s":"r","t":76,"v":63},{"p":71,"s":"r","t":78,"v":59.3},{"p":71,"s":"r","t":81,"v":55},{"p":71,"s":"r","t":84,"v":50.7},{"p":71,"s":"r","t":88,"v":46},{"p":71,"s":"r","t":91,"v":42},{"p":71,"s":"r","t":97,"v":37.5},{"p":71,"s":"r","t":104,"v":33.4},{"p":71,"s":"r","t":110,"v":30.5},{"p":71,"s":"r","t":117,"v":27.6},{"p":71,"s":"r","t":124,"v":24.5},{"p":71,"s":"r","t":130,"v":21.8},{"p":71,"s":"r","t":137,"v":20},
{"p":72,"s":"r","t":50,"v":100},{"p":72,"s":"r","t":56,"v":96},{"p":72,"s":"r","t":63,"v":92.4},{"p":72,"s":"r","t":70,"v":87},{"p":72,"s":"r","t":76,"v":82.3},{"p":72,"s":"r","t":83,"v":76},{"p":72,"s":"r","t":89,"v":70.8},{"p":72,"s":"r","t":93,"v":66},{"p":72,"s":"r","t":97,"v":62.2},{"p":72,"s":"r","t":102,"v":57},{"p":72,"s":"r","t":107,"v":52.2},{"p":72,"s":"r","t":112,"v":47},{"p":72,"s":"r","t":118,"v":42.1},{"p":72,"s":"r","t":123,"v":37},{"p":72,"s":"r","t":128,"v":32},{"p":72,"s":"r","t":135,"v":27.5},{"p":72,"s":"r","t":141,"v":23.4},{"p":72,"s":"r","t":148,"v":19.5},{"p":72,"s":"r","t":154,"v":16.2},{"p":72,"s":"r","t":160,"v":13},{"p":72,"s":"r","t":167,"v":10.5},{"p":72,"s":"r","t":174,"v":8},{"p":72,"s":"r","t":180,"v":6.2},{"p":72,"s":"r","t":187,"v":5},{"p":72,"s":"r","t":193,"v":4},
{"p":73,"s":"r","t":21,"v":100},{"p":73,"s":"r","t":27,"v":97.5},{"p":73,"s":"r","t":34,"v":95.3},{"p":73,"s":"r","t":40,"v":91.5},{"p":73,"s":"r","t":47,"v":88},{"p":73,"s":"r","t":53,"v":84.5},{"p":73,"s":"r","t":60,"v":80.9},{"p":73,"s":"r","t":66,"v":77.3},{"p":73,"s":"r","t":73,"v":73.7},{"p":73,"s":"r","t":73,"v":39.2},{"p":73,"s":"r","t":80,"v":38.5},{"p":73,"s":"r","t":86,"v":37.8},{"p":73,"s":"r","t":92,"v":35},{"p":73,"s":"r","t":99,"v":31.5},{"p":73,"s":"r","t":105,"v":29.5},{"p":73,"s":"r","t":112,"v":27.8},{"p":73,"s":"r","t":118,"v":24.5},{"p":73,"s":"r","t":125,"v":21},{"p":73,"s":"r","t":131,"v":19},{"p":73,"s":"r","t":138,"v":17.7},{"p":73,"s":"r","t":150,"v":17},{"p":73,"s":"r","t":164,"v":16.2},{"p":73,"s":"r","t":170,"v":15},{"p":73,"s":"r","t":177,"v":13.4},{"p":73,"s":"r","t":184,"v":12.3},
{"p":52,"s":"g","t":357,"v":39.7},{"p":52,"s":"g","t":362,"v":38.5},
{"p":53,"s":"g","t":178,"v":46.6},{"p":53,"s":"g","t":190,"v":44},{"p":53,"s":"g","t":198,"v":41.5},
{"p":62,"s":"g","t":141,"v":4.3},{"p":62,"s":"g","t":284,"v":12.6},
{"p":72,"s":"g","t":89,"v":5.5},
{"p":73,"s":"g","t":73,"v":34.9},{"p":73,"s":"g","t":86,"v":32},{"p":73,"s":"g","t":99,"v":29.2},{"p":73,"s":"g","t":112,"v":26.3},{"p":73,"s":"g","t":125,"v":25},{"p":73,"s":"g","t":138,"v":22.7},{"p":73,"s":"g","t":164,"v":14.8},{"p":73,"s":"g","t":140,"v":10.5},
{"p":51,"s":"b","t":266,"v":4.5},
{"p":53,"s":"b","t":237,"v":5.4},
{"p":61,"s":"b","t":248,"v":4.7},
{"p":62,"s":"b","t":323,"v":7.6},
{"p":75,"s":"b","t":10,"v":0}
]
},
"concat":[
{"width":312.5,"height":315,"layer":[{"data":{"name":"L"},"transform":[{"filter":"datum.p==11"}],"mark":"line","encoding":{"x":{"field":"t","type":"quantitative","scale":{"domain":[0,2000],"nice":false,"zero":false},"axis":{"orient":"bottom","values":[250,500,750,1000,1250,1500,1750],"tickSize":{"condition":{"test":"datum.value%500==0","value":-12},"value":-6},"labels":false,"title":null}},"y":{"field":"v","type":"quantitative","scale":{"domain":[-5,105],"nice":false,"zero":false},"axis":{"orient":"left","values":[0,10,20,30,40,50,60,70,80,90,100],"tickSize":{"condition":{"test":"datum.value%20==0","value":-12},"value":-6},"labelExpr":"datum.value%20==0?datum.label:''","title":"hydro","titleFontWeight":"bold","titleX":-112,"titleY":45,"titleAngle":270,"titleAlign":"center","titleBaseline":"middle"}},"color":{"field":"s","type":"nominal","scale":{"domain":["r","g","b"],"range":["#ff0000","#00ff00","#0000ff"]},"legend":null},"detail":{"field":"g"}}},{"data":{"name":"P"},"transform":[{"filter":"datum.p==11"}],"mark":"circle","encoding":{"x":{"field":"t","type":"quantitative","scale":{"domain":[0,2000],"nice":false,"zero":false},"axis":{"orient":"top","values":[250,500,750,1000,1250,1500,1750],"tickSize":{"condition":{"test":"datum.value%500==0","value":-12},"value":-6},"labels":false,"title":"b₀ = 0 km","titleX":118,"titleY":-13,"titleAlign":"center","titleBaseline":"alphabetic","titleAngle":0,"titleFontSize":33}},"y":{"field":"v","type":"quantitative","scale":{"domain":[-5,105],"nice":false,"zero":false},"axis":{"orient":"right","values":[0,10,20,30,40,50,60,70,80,90,100],"tickSize":{"condition":{"test":"datum.value%20==0","value":-12},"value":-6},"labels":false,"title":null}},"color":{"field":"s","type":"nominal","scale":{"domain":["r","g","b"],"range":["#ff0000","#00ff00","#0000ff"]},"legend":null}}}],"resolve":{"axis":{"x":"independent","y":"independent"}}},
{"width":312.5,"height":315,"layer":[{"data":{"name":"L"},"transform":[{"filter":"datum.p==12"}],"mark":"line","encoding":{"x":{"field":"t","type":"quantitative","scale":{"domain":[0,2000],"nice":false,"zero":false},"axis":{"orient":"bottom","values":[250,500,750,1000,1250,1500,1750],"tickSize":{"condition":{"test":"datum.value%500==0","value":-12},"value":-6},"labels":false,"title":null}},"y":{"field":"v","type":"quantitative","scale":{"domain":[-5,105],"nice":false,"zero":false},"axis":{"orient":"left","values":[0,10,20,30,40,50,60,70,80,90,100],"tickSize":{"condition":{"test":"datum.value%20==0","value":-12},"value":-6},"labels":false,"title":null}},"color":{"field":"s","type":"nominal","scale":{"domain":["r","g","b"],"range":["#ff0000","#00ff00","#0000ff"]},"legend":null},"detail":{"field":"g"}}},{"data":{"name":"P"},"transform":[{"filter":"datum.p==12"}],"mark":"circle","encoding":{"x":{"field":"t","type":"quantitative","scale":{"domain":[0,2000],"nice":false,"zero":false},"axis":{"orient":"top","values":[250,500,750,1000,1250,1500,1750],"tickSize":{"condition":{"test":"datum.value%500==0","value":-12},"value":-6},"labels":false,"title":"b₀ = 219 km","titleX":118,"titleY":-13,"titleAlign":"center","titleBaseline":"alphabetic","titleAngle":0,"titleFontSize":33}},"y":{"field":"v","type":"quantitative","scale":{"domain":[-5,105],"nice":false,"zero":false},"axis":{"orient":"right","values":[0,10,20,30,40,50,60,70,80,90,100],"tickSize":{"condition":{"test":"datum.value%20==0","value":-12},"value":-6},"labels":false,"title":null}},"color":{"field":"s","type":"nominal","scale":{"domain":["r","g","b"],"range":["#ff0000","#00ff00","#0000ff"]},"legend":null}}},{"data":{"values":[{}]},"mark":{"type":"text","text":"α = 6°"},"encoding":{"x":{"datum":1810,"type":"quantitative","scale":{"domain":[0,2000],"nice":false,"zero":false},"axis":null},"y":{"datum":79,"type":"quantitative","scale":{"domain":[-5,105],"nice":false,"zero":false},"axis":null}}}],"resolve":{"axis":{"x":"independent","y":"independent"}}},
{"width":312.5,"height":315,"layer":[{"data":{"name":"L"},"transform":[{"filter":"datum.p==13"}],"mark":"line","encoding":{"x":{"field":"t","type":"quantitative","scale":{"domain":[0,2000],"nice":false,"zero":false},"axis":{"orient":"bottom","values":[250,500,750,1000,1250,1500,1750],"tickSize":{"condition":{"test":"datum.value%500==0","value":-12},"value":-6},"labels":false,"title":null}},"y":{"field":"v","type":"quantitative","scale":{"domain":[-5,105],"nice":false,"zero":false},"axis":{"orient":"left","values":[0,10,20,30,40,50,60,70,80,90,100],"tickSize":{"condition":{"test":"datum.value%20==0","value":-12},"value":-6},"labels":false,"title":null}},"color":{"field":"s","type":"nominal","scale":{"domain":["r","g","b"],"range":["#ff0000","#00ff00","#0000ff"]},"legend":null},"detail":{"field":"g"}}},{"data":{"name":"P"},"transform":[{"filter":"datum.p==13"}],"mark":"circle","encoding":{"x":{"field":"t","type":"quantitative","scale":{"domain":[0,2000],"nice":false,"zero":false},"axis":{"orient":"top","values":[250,500,750,1000,1250,1500,1750],"tickSize":{"condition":{"test":"datum.value%500==0","value":-12},"value":-6},"labels":false,"title":"b₀ = 437 km","titleX":118,"titleY":-13,"titleAlign":"center","titleBaseline":"alphabetic","titleAngle":0,"titleFontSize":33}},"y":{"field":"v","type":"quantitative","scale":{"domain":[-5,105],"nice":false,"zero":false},"axis":{"orient":"right","values":[0,10,20,30,40,50,60,70,80,90,100],"tickSize":{"condition":{"test":"datum.value%20==0","value":-12},"value":-6},"labels":false,"title":null}},"color":{"field":"s","type":"nominal","scale":{"domain":["r","g","b"],"range":["#ff0000","#00ff00","#0000ff"]},"legend":null}}},{"data":{"values":[{}]},"mark":{"type":"text","text":"α = 11°"},"encoding":{"x":{"datum":1810,"type":"quantitative","scale":{"domain":[0,2000],"nice":false,"zero":false},"axis":null},"y":{"datum":79,"type":"quantitative","scale":{"domain":[-5,105],"nice":false,"zero":false},"axis":null}}}],"resolve":{"axis":{"x":"independent","y":"independent"}}},
{"width":312.5,"height":315,"layer":[{"data":{"name":"L"},"transform":[{"filter":"datum.p==14"}],"mark":"line","encoding":{"x":{"field":"t","type":"quantitative","scale":{"domain":[0,2000],"nice":false,"zero":false},"axis":{"orient":"bottom","values":[250,500,750,1000,1250,1500,1750],"tickSize":{"condition":{"test":"datum.value%500==0","value":-12},"value":-6},"labels":false,"title":null}},"y":{"field":"v","type":"quantitative","scale":{"domain":[-5,105],"nice":false,"zero":false},"axis":{"orient":"left","values":[0,10,20,30,40,50,60,70,80,90,100],"tickSize":{"condition":{"test":"datum.value%20==0","value":-12},"value":-6},"labels":false,"title":null}},"color":{"field":"s","type":"nominal","scale":{"domain":["r","g","b"],"range":["#ff0000","#00ff00","#0000ff"]},"legend":null},"detail":{"field":"g"}}},{"data":{"name":"P"},"transform":[{"filter":"datum.p==14"}],"mark":"circle","encoding":{"x":{"field":"t","type":"quantitative","scale":{"domain":[0,2000],"nice":false,"zero":false},"axis":{"orient":"top","values":[250,500,750,1000,1250,1500,1750],"tickSize":{"condition":{"test":"datum.value%500==0","value":-12},"value":-6},"labels":false,"title":"b₀ = 819 km","titleX":118,"titleY":-13,"titleAlign":"center","titleBaseline":"alphabetic","titleAngle":0,"titleFontSize":33}},"y":{"field":"v","type":"quantitative","scale":{"domain":[-5,105],"nice":false,"zero":false},"axis":{"orient":"right","values":[0,10,20,30,40,50,60,70,80,90,100],"tickSize":{"condition":{"test":"datum.value%20==0","value":-12},"value":-6},"labels":false,"title":null}},"color":{"field":"s","type":"nominal","scale":{"domain":["r","g","b"],"range":["#ff0000","#00ff00","#0000ff"]},"legend":null}}},{"data":{"values":[{}]},"mark":{"type":"text","text":"α = 21°"},"encoding":{"x":{"datum":1810,"type":"quantitative","scale":{"domain":[0,2000],"nice":false,"zero":false},"axis":null},"y":{"datum":79,"type":"quantitative","scale":{"domain":[-5,105],"nice":false,"zero":false},"axis":null}}}],"resolve":{"axis":{"x":"independent","y":"independent"}}},
{"width":312.5,"height":315,"layer":[{"data":{"name":"L"},"transform":[{"filter":"datum.p==15"}],"mark":"line","encoding":{"x":{"field":"t","type":"quantitative","scale":{"domain":[0,2000],"nice":false,"zero":false},"axis":{"orient":"bottom","values":[250,500,750,1000,1250,1500,1750],"tickSize":{"condition":{"test":"datum.value%500==0","value":-12},"value":-6},"labels":false,"title":null}},"y":{"field":"v","type":"quantitative","scale":{"domain":[-5,105],"nice":false,"zero":false},"axis":{"orient":"left","values":[0,10,20,30,40,50,60,70,80,90,100],"tickSize":{"condition":{"test":"datum.value%20==0","value":-12},"value":-6},"labels":false,"title":null}},"color":{"field":"s","type":"nominal","scale":{"domain":["r","g","b"],"range":["#ff0000","#00ff00","#0000ff"]},"legend":null},"detail":{"field":"g"}}},{"data":{"name":"P"},"transform":[{"filter":"datum.p==15"}],"mark":"circle","encoding":{"x":{"field":"t","type":"quantitative","scale":{"domain":[0,2000],"nice":false,"zero":false},"axis":{"orient":"top","values":[250,500,750,1000,1250,1500,1750],"tickSize":{"condition":{"test":"datum.value%500==0","value":-12},"value":-6},"labels":false,"title":"b₀ = 946 km","titleX":118,"titleY":-13,"titleAlign":"center","titleBaseline":"alphabetic","titleAngle":0,"titleFontSize":33}},"y":{"field":"v","type":"quantitative","scale":{"domain":[-5,105],"nice":false,"zero":false},"axis":{"orient":"right","values":[0,10,20,30,40,50,60,70,80,90,100],"tickSize":{"condition":{"test":"datum.value%20==0","value":-12},"value":-6},"labels":false,"title":null}},"color":{"field":"s","type":"nominal","scale":{"domain":["r","g","b"],"range":["#ff0000","#00ff00","#0000ff"]},"legend":null}}},{"data":{"values":[{}]},"mark":{"type":"text","text":"α = 25°"},"encoding":{"x":{"datum":1810,"type":"quantitative","scale":{"domain":[0,2000],"nice":false,"zero":false},"axis":null},"y":{"datum":79,"type":"quantitative","scale":{"domain":[-5,105],"nice":false,"zero":false},"axis":null}}}],"resolve":{"axis":{"x":"independent","y":"independent"}}},
{"width":312.5,"height":315,"layer":[{"data":{"name":"L"},"transform":[{"filter":"datum.p==16"}],"mark":"line","encoding":{"x":{"field":"t","type":"quantitative","scale":{"domain":[0,2000],"nice":false,"zero":false},"axis":{"orient":"bottom","values":[250,500,750,1000,1250,1500,1750],"tickSize":{"condition":{"test":"datum.value%500==0","value":-12},"value":-6},"labels":false,"title":["v₀,ᵢ","[vₑₛc]"],"titleX":370,"titleY":-324,"titleLineHeight":35,"titleAlign":"center","titleBaseline":"alphabetic","titleAngle":0,"titleFontSize":30}},"y":{"field":"v","type":"quantitative","scale":{"domain":[-5,105],"nice":false,"zero":false},"axis":{"orient":"left","values":[0,10,20,30,40,50,60,70,80,90,100],"tickSize":{"condition":{"test":"datum.value%20==0","value":-12},"value":-6},"labels":false,"title":null}},"color":{"field":"s","type":"nominal","scale":{"domain":["r","g","b"],"range":["#ff0000","#00ff00","#0000ff"]},"legend":null},"detail":{"field":"g"}}},{"data":{"name":"P"},"transform":[{"filter":"datum.p==16"}],"mark":"circle","encoding":{"x":{"field":"t","type":"quantitative","scale":{"domain":[0,2000],"nice":false,"zero":false},"axis":{"orient":"top","values":[250,500,750,1000,1250,1500,1750],"tickSize":{"condition":{"test":"datum.value%500==0","value":-12},"value":-6},"labels":false,"title":"b₀ = 1892 km","titleX":118,"titleY":-13,"titleAlign":"center","titleBaseline":"alphabetic","titleAngle":0,"titleFontSize":33,"titleFontWeight":"bold"}},"y":{"field":"v","type":"quantitative","scale":{"domain":[-5,105],"nice":false,"zero":false},"axis":{"orient":"right","values":[0,10,20,30,40,50,60,70,80,90,100],"tickSize":{"condition":{"test":"datum.value%20==0","value":-12},"value":-6},"labels":false,"title":"0.94","titleAngle":0,"titleAlign":"center","titleBaseline":"alphabetic","titleX":58,"titleY":107}},"color":{"field":"s","type":"nominal","scale":{"domain":["r","g","b"],"range":["#ff0000","#00ff00","#0000ff"]},"legend":null}}},{"data":{"values":[{}]},"mark":{"type":"text","text":"α = 58°"},"encoding":{"x":{"datum":1810,"type":"quantitative","scale":{"domain":[0,2000],"nice":false,"zero":false},"axis":null},"y":{"datum":79,"type":"quantitative","scale":{"domain":[-5,105],"nice":false,"zero":false},"axis":null}}}],"resolve":{"axis":{"x":"independent","y":"independent"}}},

{"width":312.5,"height":315,"layer":[{"data":{"name":"L"},"transform":[{"filter":"datum.p==21"}],"mark":"line","encoding":{"x":{"field":"t","type":"quantitative","scale":{"domain":[0,2000],"nice":false,"zero":false},"axis":{"orient":"bottom","values":[250,500,750,1000,1250,1500,1750],"tickSize":{"condition":{"test":"datum.value%500==0","value":-12},"value":-6},"labels":false,"title":null}},"y":{"field":"v","type":"quantitative","scale":{"domain":[-5,105],"nice":false,"zero":false},"axis":{"orient":"left","values":[0,10,20,30,40,50,60,70,80,90,100],"tickSize":{"condition":{"test":"datum.value%20==0","value":-12},"value":-6},"labelExpr":"datum.value%20==0?datum.label:''","title":null}},"color":{"field":"s","type":"nominal","scale":{"domain":["r","g","b"],"range":["#ff0000","#00ff00","#0000ff"]},"legend":null},"detail":{"field":"g"}}},{"data":{"name":"P"},"transform":[{"filter":"datum.p==21"}],"mark":"circle","encoding":{"x":{"field":"t","type":"quantitative","scale":{"domain":[0,2000],"nice":false,"zero":false},"axis":{"orient":"top","values":[250,500,750,1000,1250,1500,1750],"tickSize":{"condition":{"test":"datum.value%500==0","value":-12},"value":-6},"labels":false,"title":null}},"y":{"field":"v","type":"quantitative","scale":{"domain":[-5,105],"nice":false,"zero":false},"axis":{"orient":"right","values":[0,10,20,30,40,50,60,70,80,90,100],"tickSize":{"condition":{"test":"datum.value%20==0","value":-12},"value":-6},"labels":false,"title":null}},"color":{"field":"s","type":"nominal","scale":{"domain":["r","g","b"],"range":["#ff0000","#00ff00","#0000ff"]},"legend":null}}}],"resolve":{"axis":{"x":"independent","y":"independent"}}},
{"width":312.5,"height":315,"layer":[{"data":{"name":"L"},"transform":[{"filter":"datum.p==22"}],"mark":"line","encoding":{"x":{"field":"t","type":"quantitative","scale":{"domain":[0,2000],"nice":false,"zero":false},"axis":{"orient":"bottom","values":[250,500,750,1000,1250,1500,1750],"tickSize":{"condition":{"test":"datum.value%500==0","value":-12},"value":-6},"labels":false,"title":null}},"y":{"field":"v","type":"quantitative","scale":{"domain":[-5,105],"nice":false,"zero":false},"axis":{"orient":"left","values":[0,10,20,30,40,50,60,70,80,90,100],"tickSize":{"condition":{"test":"datum.value%20==0","value":-12},"value":-6},"labels":false,"title":null}},"color":{"field":"s","type":"nominal","scale":{"domain":["r","g","b"],"range":["#ff0000","#00ff00","#0000ff"]},"legend":null},"detail":{"field":"g"}}},{"data":{"name":"P"},"transform":[{"filter":"datum.p==22"}],"mark":"circle","encoding":{"x":{"field":"t","type":"quantitative","scale":{"domain":[0,2000],"nice":false,"zero":false},"axis":{"orient":"top","values":[250,500,750,1000,1250,1500,1750],"tickSize":{"condition":{"test":"datum.value%500==0","value":-12},"value":-6},"labels":false,"title":null}},"y":{"field":"v","type":"quantitative","scale":{"domain":[-5,105],"nice":false,"zero":false},"axis":{"orient":"right","values":[0,10,20,30,40,50,60,70,80,90,100],"tickSize":{"condition":{"test":"datum.value%20==0","value":-12},"value":-6},"labels":false,"title":null}},"color":{"field":"s","type":"nominal","scale":{"domain":["r","g","b"],"range":["#ff0000","#00ff00","#0000ff"]},"legend":null}}},{"data":{"values":[{}]},"mark":{"type":"text","text":"α = 9°"},"encoding":{"x":{"datum":1810,"type":"quantitative","scale":{"domain":[0,2000],"nice":false,"zero":false},"axis":null},"y":{"datum":79,"type":"quantitative","scale":{"domain":[-5,105],"nice":false,"zero":false},"axis":null}}}],"resolve":{"axis":{"x":"independent","y":"independent"}}},
{"width":312.5,"height":315,"layer":[{"data":{"name":"L"},"transform":[{"filter":"datum.p==23"}],"mark":"line","encoding":{"x":{"field":"t","type":"quantitative","scale":{"domain":[0,2000],"nice":false,"zero":false},"axis":{"orient":"bottom","values":[250,500,750,1000,1250,1500,1750],"tickSize":{"condition":{"test":"datum.value%500==0","value":-12},"value":-6},"labels":false,"title":null}},"y":{"field":"v","type":"quantitative","scale":{"domain":[-5,105],"nice":false,"zero":false},"axis":{"orient":"left","values":[0,10,20,30,40,50,60,70,80,90,100],"tickSize":{"condition":{"test":"datum.value%20==0","value":-12},"value":-6},"labels":false,"title":null}},"color":{"field":"s","type":"nominal","scale":{"domain":["r","g","b"],"range":["#ff0000","#00ff00","#0000ff"]},"legend":null},"detail":{"field":"g"}}},{"data":{"name":"P"},"transform":[{"filter":"datum.p==23"}],"mark":"circle","encoding":{"x":{"field":"t","type":"quantitative","scale":{"domain":[0,2000],"nice":false,"zero":false},"axis":{"orient":"top","values":[250,500,750,1000,1250,1500,1750],"tickSize":{"condition":{"test":"datum.value%500==0","value":-12},"value":-6},"labels":false,"title":null}},"y":{"field":"v","type":"quantitative","scale":{"domain":[-5,105],"nice":false,"zero":false},"axis":{"orient":"right","values":[0,10,20,30,40,50,60,70,80,90,100],"tickSize":{"condition":{"test":"datum.value%20==0","value":-12},"value":-6},"labels":false,"title":null}},"color":{"field":"s","type":"nominal","scale":{"domain":["r","g","b"],"range":["#ff0000","#00ff00","#0000ff"]},"legend":null}}},{"data":{"values":[{}]},"mark":{"type":"text","text":"α = 19°"},"encoding":{"x":{"datum":1810,"type":"quantitative","scale":{"domain":[0,2000],"nice":false,"zero":false},"axis":null},"y":{"datum":79,"type":"quantitative","scale":{"domain":[-5,105],"nice":false,"zero":false},"axis":null}}}],"resolve":{"axis":{"x":"independent","y":"independent"}}},
{"width":312.5,"height":315,"layer":[{"data":{"name":"L"},"transform":[{"filter":"datum.p==24"}],"mark":"line","encoding":{"x":{"field":"t","type":"quantitative","scale":{"domain":[0,2000],"nice":false,"zero":false},"axis":{"orient":"bottom","values":[250,500,750,1000,1250,1500,1750],"tickSize":{"condition":{"test":"datum.value%500==0","value":-12},"value":-6},"labels":false,"title":null}},"y":{"field":"v","type":"quantitative","scale":{"domain":[-5,105],"nice":false,"zero":false},"axis":{"orient":"left","values":[0,10,20,30,40,50,60,70,80,90,100],"tickSize":{"condition":{"test":"datum.value%20==0","value":-12},"value":-6},"labels":false,"title":null}},"color":{"field":"s","type":"nominal","scale":{"domain":["r","g","b"],"range":["#ff0000","#00ff00","#0000ff"]},"legend":null},"detail":{"field":"g"}}},{"data":{"name":"P"},"transform":[{"filter":"datum.p==24"}],"mark":"circle","encoding":{"x":{"field":"t","type":"quantitative","scale":{"domain":[0,2000],"nice":false,"zero":false},"axis":{"orient":"top","values":[250,500,750,1000,1250,1500,1750],"tickSize":{"condition":{"test":"datum.value%500==0","value":-12},"value":-6},"labels":false,"title":null}},"y":{"field":"v","type":"quantitative","scale":{"domain":[-5,105],"nice":false,"zero":false},"axis":{"orient":"right","values":[0,10,20,30,40,50,60,70,80,90,100],"tickSize":{"condition":{"test":"datum.value%20==0","value":-12},"value":-6},"labels":false,"title":null}},"color":{"field":"s","type":"nominal","scale":{"domain":["r","g","b"],"range":["#ff0000","#00ff00","#0000ff"]},"legend":null}}},{"data":{"values":[{}]},"mark":{"type":"text","text":"α = 37°"},"encoding":{"x":{"datum":1810,"type":"quantitative","scale":{"domain":[0,2000],"nice":false,"zero":false},"axis":null},"y":{"datum":79,"type":"quantitative","scale":{"domain":[-5,105],"nice":false,"zero":false},"axis":null}}}],"resolve":{"axis":{"x":"independent","y":"independent"}}},
{"width":312.5,"height":315,"layer":[{"data":{"name":"L"},"transform":[{"filter":"datum.p==25"}],"mark":"line","encoding":{"x":{"field":"t","type":"quantitative","scale":{"domain":[0,2000],"nice":false,"zero":false},"axis":{"orient":"bottom","values":[250,500,750,1000,1250,1500,1750],"tickSize":{"condition":{"test":"datum.value%500==0","value":-12},"value":-6},"labels":false,"title":null}},"y":{"field":"v","type":"quantitative","scale":{"domain":[-5,105],"nice":false,"zero":false},"axis":{"orient":"left","values":[0,10,20,30,40,50,60,70,80,90,100],"tickSize":{"condition":{"test":"datum.value%20==0","value":-12},"value":-6},"labels":false,"title":null}},"color":{"field":"s","type":"nominal","scale":{"domain":["r","g","b"],"range":["#ff0000","#00ff00","#0000ff"]},"legend":null},"detail":{"field":"g"}}},{"data":{"name":"P"},"transform":[{"filter":"datum.p==25"}],"mark":"circle","encoding":{"x":{"field":"t","type":"quantitative","scale":{"domain":[0,2000],"nice":false,"zero":false},"axis":{"orient":"top","values":[250,500,750,1000,1250,1500,1750],"tickSize":{"condition":{"test":"datum.value%500==0","value":-12},"value":-6},"labels":false,"title":null}},"y":{"field":"v","type":"quantitative","scale":{"domain":[-5,105],"nice":false,"zero":false},"axis":{"orient":"right","values":[0,10,20,30,40,50,60,70,80,90,100],"tickSize":{"condition":{"test":"datum.value%20==0","value":-12},"value":-6},"labels":false,"title":null}},"color":{"field":"s","type":"nominal","scale":{"domain":["r","g","b"],"range":["#ff0000","#00ff00","#0000ff"]},"legend":null}}},{"data":{"values":[{}]},"mark":{"type":"text","text":"α = 44°"},"encoding":{"x":{"datum":1810,"type":"quantitative","scale":{"domain":[0,2000],"nice":false,"zero":false},"axis":null},"y":{"datum":79,"type":"quantitative","scale":{"domain":[-5,105],"nice":false,"zero":false},"axis":null}}}],"resolve":{"axis":{"x":"independent","y":"independent"}}},
{"width":312.5,"height":315,"layer":[{"data":{"name":"L"},"transform":[{"filter":"datum.p==26"}],"mark":"line","encoding":{"x":{"field":"t","type":"quantitative","scale":{"domain":[0,2000],"nice":false,"zero":false},"axis":{"orient":"bottom","values":[250,500,750,1000,1250,1500,1750],"tickSize":{"condition":{"test":"datum.value%500==0","value":-12},"value":-6},"labels":false,"title":null}},"y":{"field":"v","type":"quantitative","scale":{"domain":[-5,105],"nice":false,"zero":false},"axis":{"orient":"left","values":[0,10,20,30,40,50,60,70,80,90,100],"tickSize":{"condition":{"test":"datum.value%20==0","value":-12},"value":-6},"labels":false,"title":null}},"color":{"field":"s","type":"nominal","scale":{"domain":["r","g","b"],"range":["#ff0000","#00ff00","#0000ff"]},"legend":null},"detail":{"field":"g"}}},{"data":{"name":"P"},"transform":[{"filter":"datum.p==26"}],"mark":"circle","encoding":{"x":{"field":"t","type":"quantitative","scale":{"domain":[0,2000],"nice":false,"zero":false},"axis":{"orient":"top","values":[250,500,750,1000,1250,1500,1750],"tickSize":{"condition":{"test":"datum.value%500==0","value":-12},"value":-6},"labels":false,"title":null}},"y":{"field":"v","type":"quantitative","scale":{"domain":[-5,105],"nice":false,"zero":false},"axis":{"orient":"right","values":[0,10,20,30,40,50,60,70,80,90,100],"tickSize":{"condition":{"test":"datum.value%20==0","value":-12},"value":-6},"labels":false,"title":"1.31","titleAngle":0,"titleAlign":"center","titleBaseline":"alphabetic","titleX":58,"titleY":107}},"color":{"field":"s","type":"nominal","scale":{"domain":["r","g","b"],"range":["#ff0000","#00ff00","#0000ff"]},"legend":null}}}],"resolve":{"axis":{"x":"independent","y":"independent"}}},

{"width":312.5,"height":315,"layer":[{"data":{"name":"L"},"transform":[{"filter":"datum.p==31"}],"mark":"line","encoding":{"x":{"field":"t","type":"quantitative","scale":{"domain":[0,2000],"nice":false,"zero":false},"axis":{"orient":"bottom","values":[250,500,750,1000,1250,1500,1750],"tickSize":{"condition":{"test":"datum.value%500==0","value":-12},"value":-6},"labels":false,"title":null}},"y":{"field":"v","type":"quantitative","scale":{"domain":[-5,105],"nice":false,"zero":false},"axis":{"orient":"left","values":[0,10,20,30,40,50,60,70,80,90,100],"tickSize":{"condition":{"test":"datum.value%20==0","value":-12},"value":-6},"labelExpr":"datum.value%20==0?datum.label:''","title":null}},"color":{"field":"s","type":"nominal","scale":{"domain":["r","g","b"],"range":["#ff0000","#00ff00","#0000ff"]},"legend":null},"detail":{"field":"g"}}},{"data":{"name":"P"},"transform":[{"filter":"datum.p==31"}],"mark":"circle","encoding":{"x":{"field":"t","type":"quantitative","scale":{"domain":[0,2000],"nice":false,"zero":false},"axis":{"orient":"top","values":[250,500,750,1000,1250,1500,1750],"tickSize":{"condition":{"test":"datum.value%500==0","value":-12},"value":-6},"labels":false,"title":null}},"y":{"field":"v","type":"quantitative","scale":{"domain":[-5,105],"nice":false,"zero":false},"axis":{"orient":"right","values":[0,10,20,30,40,50,60,70,80,90,100],"tickSize":{"condition":{"test":"datum.value%20==0","value":-12},"value":-6},"labels":false,"title":null}},"color":{"field":"s","type":"nominal","scale":{"domain":["r","g","b"],"range":["#ff0000","#00ff00","#0000ff"]},"legend":null}}}],"resolve":{"axis":{"x":"independent","y":"independent"}}},
{"width":312.5,"height":315,"layer":[{"data":{"name":"L"},"transform":[{"filter":"datum.p==32"}],"mark":"line","encoding":{"x":{"field":"t","type":"quantitative","scale":{"domain":[0,2000],"nice":false,"zero":false},"axis":{"orient":"bottom","values":[250,500,750,1000,1250,1500,1750],"tickSize":{"condition":{"test":"datum.value%500==0","value":-12},"value":-6},"labels":false,"title":null}},"y":{"field":"v","type":"quantitative","scale":{"domain":[-5,105],"nice":false,"zero":false},"axis":{"orient":"left","values":[0,10,20,30,40,50,60,70,80,90,100],"tickSize":{"condition":{"test":"datum.value%20==0","value":-12},"value":-6},"labels":false,"title":null}},"color":{"field":"s","type":"nominal","scale":{"domain":["r","g","b"],"range":["#ff0000","#00ff00","#0000ff"]},"legend":null},"detail":{"field":"g"}}},{"data":{"name":"P"},"transform":[{"filter":"datum.p==32"}],"mark":"circle","encoding":{"x":{"field":"t","type":"quantitative","scale":{"domain":[0,2000],"nice":false,"zero":false},"axis":{"orient":"top","values":[250,500,750,1000,1250,1500,1750],"tickSize":{"condition":{"test":"datum.value%500==0","value":-12},"value":-6},"labels":false,"title":null}},"y":{"field":"v","type":"quantitative","scale":{"domain":[-5,105],"nice":false,"zero":false},"axis":{"orient":"right","values":[0,10,20,30,40,50,60,70,80,90,100],"tickSize":{"condition":{"test":"datum.value%20==0","value":-12},"value":-6},"labels":false,"title":null}},"color":{"field":"s","type":"nominal","scale":{"domain":["r","g","b"],"range":["#ff0000","#00ff00","#0000ff"]},"legend":null}}},{"data":{"values":[{}]},"mark":{"type":"text","text":"α = 9°"},"encoding":{"x":{"datum":1810,"type":"quantitative","scale":{"domain":[0,2000],"nice":false,"zero":false},"axis":null},"y":{"datum":79,"type":"quantitative","scale":{"domain":[-5,105],"nice":false,"zero":false},"axis":null}}}],"resolve":{"axis":{"x":"independent","y":"independent"}}},
{"width":312.5,"height":315,"layer":[{"data":{"name":"L"},"transform":[{"filter":"datum.p==33"}],"mark":"line","encoding":{"x":{"field":"t","type":"quantitative","scale":{"domain":[0,2000],"nice":false,"zero":false},"axis":{"orient":"bottom","values":[250,500,750,1000,1250,1500,1750],"tickSize":{"condition":{"test":"datum.value%500==0","value":-12},"value":-6},"labels":false,"title":null}},"y":{"field":"v","type":"quantitative","scale":{"domain":[-5,105],"nice":false,"zero":false},"axis":{"orient":"left","values":[0,10,20,30,40,50,60,70,80,90,100],"tickSize":{"condition":{"test":"datum.value%20==0","value":-12},"value":-6},"labels":false,"title":null}},"color":{"field":"s","type":"nominal","scale":{"domain":["r","g","b"],"range":["#ff0000","#00ff00","#0000ff"]},"legend":null},"detail":{"field":"g"}}},{"data":{"name":"P"},"transform":[{"filter":"datum.p==33"}],"mark":"circle","encoding":{"x":{"field":"t","type":"quantitative","scale":{"domain":[0,2000],"nice":false,"zero":false},"axis":{"orient":"top","values":[250,500,750,1000,1250,1500,1750],"tickSize":{"condition":{"test":"datum.value%500==0","value":-12},"value":-6},"labels":false,"title":null}},"y":{"field":"v","type":"quantitative","scale":{"domain":[-5,105],"nice":false,"zero":false},"axis":{"orient":"right","values":[0,10,20,30,40,50,60,70,80,90,100],"tickSize":{"condition":{"test":"datum.value%20==0","value":-12},"value":-6},"labels":false,"title":null}},"color":{"field":"s","type":"nominal","scale":{"domain":["r","g","b"],"range":["#ff0000","#00ff00","#0000ff"]},"legend":null}}},{"data":{"values":[{}]},"mark":{"type":"text","text":"α = 19°"},"encoding":{"x":{"datum":1810,"type":"quantitative","scale":{"domain":[0,2000],"nice":false,"zero":false},"axis":null},"y":{"datum":79,"type":"quantitative","scale":{"domain":[-5,105],"nice":false,"zero":false},"axis":null}}}],"resolve":{"axis":{"x":"independent","y":"independent"}}},
{"width":312.5,"height":315,"layer":[{"data":{"name":"L"},"transform":[{"filter":"datum.p==34"}],"mark":"line","encoding":{"x":{"field":"t","type":"quantitative","scale":{"domain":[0,2000],"nice":false,"zero":false},"axis":{"orient":"bottom","values":[250,500,750,1000,1250,1500,1750],"tickSize":{"condition":{"test":"datum.value%500==0","value":-12},"value":-6},"labels":false,"title":null}},"y":{"field":"v","type":"quantitative","scale":{"domain":[-5,105],"nice":false,"zero":false},"axis":{"orient":"left","values":[0,10,20,30,40,50,60,70,80,90,100],"tickSize":{"condition":{"test":"datum.value%20==0","value":-12},"value":-6},"labels":false,"title":null}},"color":{"field":"s","type":"nominal","scale":{"domain":["r","g","b"],"range":["#ff0000","#00ff00","#0000ff"]},"legend":null},"detail":{"field":"g"}}},{"data":{"name":"P"},"transform":[{"filter":"datum.p==34"}],"mark":"circle","encoding":{"x":{"field":"t","type":"quantitative","scale":{"domain":[0,2000],"nice":false,"zero":false},"axis":{"orient":"top","values":[250,500,750,1000,1250,1500,1750],"tickSize":{"condition":{"test":"datum.value%500==0","value":-12},"value":-6},"labels":false,"title":null}},"y":{"field":"v","type":"quantitative","scale":{"domain":[-5,105],"nice":false,"zero":false},"axis":{"orient":"right","values":[0,10,20,30,40,50,60,70,80,90,100],"tickSize":{"condition":{"test":"datum.value%20==0","value":-12},"value":-6},"labels":false,"title":null}},"color":{"field":"s","type":"nominal","scale":{"domain":["r","g","b"],"range":["#ff0000","#00ff00","#0000ff"]},"legend":null}}},{"data":{"values":[{}]},"mark":{"type":"text","text":"α = 38°"},"encoding":{"x":{"datum":1810,"type":"quantitative","scale":{"domain":[0,2000],"nice":false,"zero":false},"axis":null},"y":{"datum":79,"type":"quantitative","scale":{"domain":[-5,105],"nice":false,"zero":false},"axis":null}}}],"resolve":{"axis":{"x":"independent","y":"independent"}}},
{"width":312.5,"height":315,"layer":[{"data":{"name":"L"},"transform":[{"filter":"datum.p==35"}],"mark":"line","encoding":{"x":{"field":"t","type":"quantitative","scale":{"domain":[0,2000],"nice":false,"zero":false},"axis":{"orient":"bottom","values":[250,500,750,1000,1250,1500,1750],"tickSize":{"condition":{"test":"datum.value%500==0","value":-12},"value":-6},"labels":false,"title":null}},"y":{"field":"v","type":"quantitative","scale":{"domain":[-5,105],"nice":false,"zero":false},"axis":{"orient":"left","values":[0,10,20,30,40,50,60,70,80,90,100],"tickSize":{"condition":{"test":"datum.value%20==0","value":-12},"value":-6},"labels":false,"title":null}},"color":{"field":"s","type":"nominal","scale":{"domain":["r","g","b"],"range":["#ff0000","#00ff00","#0000ff"]},"legend":null},"detail":{"field":"g"}}},{"data":{"name":"P"},"transform":[{"filter":"datum.p==35"}],"mark":"circle","encoding":{"x":{"field":"t","type":"quantitative","scale":{"domain":[0,2000],"nice":false,"zero":false},"axis":{"orient":"top","values":[250,500,750,1000,1250,1500,1750],"tickSize":{"condition":{"test":"datum.value%500==0","value":-12},"value":-6},"labels":false,"title":null}},"y":{"field":"v","type":"quantitative","scale":{"domain":[-5,105],"nice":false,"zero":false},"axis":{"orient":"right","values":[0,10,20,30,40,50,60,70,80,90,100],"tickSize":{"condition":{"test":"datum.value%20==0","value":-12},"value":-6},"labels":false,"title":null}},"color":{"field":"s","type":"nominal","scale":{"domain":["r","g","b"],"range":["#ff0000","#00ff00","#0000ff"]},"legend":null}}},{"data":{"values":[{}]},"mark":{"type":"text","text":"α = 45°"},"encoding":{"x":{"datum":1810,"type":"quantitative","scale":{"domain":[0,2000],"nice":false,"zero":false},"axis":null},"y":{"datum":79,"type":"quantitative","scale":{"domain":[-5,105],"nice":false,"zero":false},"axis":null}}}],"resolve":{"axis":{"x":"independent","y":"independent"}}},
{"width":312.5,"height":315,"layer":[{"data":{"name":"L"},"transform":[{"filter":"datum.p==36"}],"mark":"line","encoding":{"x":{"field":"t","type":"quantitative","scale":{"domain":[0,2000],"nice":false,"zero":false},"axis":{"orient":"bottom","values":[250,500,750,1000,1250,1500,1750],"tickSize":{"condition":{"test":"datum.value%500==0","value":-12},"value":-6},"labels":false,"title":null}},"y":{"field":"v","type":"quantitative","scale":{"domain":[-5,105],"nice":false,"zero":false},"axis":{"orient":"left","values":[0,10,20,30,40,50,60,70,80,90,100],"tickSize":{"condition":{"test":"datum.value%20==0","value":-12},"value":-6},"labels":false,"title":null}},"color":{"field":"s","type":"nominal","scale":{"domain":["r","g","b"],"range":["#ff0000","#00ff00","#0000ff"]},"legend":null},"detail":{"field":"g"}}},{"data":{"name":"P"},"transform":[{"filter":"datum.p==36"}],"mark":"circle","encoding":{"x":{"field":"t","type":"quantitative","scale":{"domain":[0,2000],"nice":false,"zero":false},"axis":{"orient":"top","values":[250,500,750,1000,1250,1500,1750],"tickSize":{"condition":{"test":"datum.value%500==0","value":-12},"value":-6},"labels":false,"title":null}},"y":{"field":"v","type":"quantitative","scale":{"domain":[-5,105],"nice":false,"zero":false},"axis":{"orient":"right","values":[0,10,20,30,40,50,60,70,80,90,100],"tickSize":{"condition":{"test":"datum.value%20==0","value":-12},"value":-6},"labels":false,"title":"1.34","titleAngle":0,"titleAlign":"center","titleBaseline":"alphabetic","titleX":58,"titleY":107}},"color":{"field":"s","type":"nominal","scale":{"domain":["r","g","b"],"range":["#ff0000","#00ff00","#0000ff"]},"legend":null}}}],"resolve":{"axis":{"x":"independent","y":"independent"}}},

{"width":312.5,"height":315,"layer":[{"data":{"name":"L"},"transform":[{"filter":"datum.p==41"}],"mark":"line","encoding":{"x":{"field":"t","type":"quantitative","scale":{"domain":[0,2000],"nice":false,"zero":false},"axis":{"orient":"bottom","values":[250,500,750,1000,1250,1500,1750],"tickSize":{"condition":{"test":"datum.value%500==0","value":-12},"value":-6},"labels":false,"title":null}},"y":{"field":"v","type":"quantitative","scale":{"domain":[-5,105],"nice":false,"zero":false},"axis":{"orient":"left","values":[0,10,20,30,40,50,60,70,80,90,100],"tickSize":{"condition":{"test":"datum.value%20==0","value":-12},"value":-6},"labelExpr":"datum.value%20==0?datum.label:''","title":"Mfrag / Mtot [%]","titleX":-115,"titleY":157.5,"titleAngle":270,"titleAlign":"center","titleBaseline":"middle"}},"color":{"field":"s","type":"nominal","scale":{"domain":["r","g","b"],"range":["#ff0000","#00ff00","#0000ff"]},"legend":null},"detail":{"field":"g"}}},{"data":{"name":"P"},"transform":[{"filter":"datum.p==41"}],"mark":"circle","encoding":{"x":{"field":"t","type":"quantitative","scale":{"domain":[0,2000],"nice":false,"zero":false},"axis":{"orient":"top","values":[250,500,750,1000,1250,1500,1750],"tickSize":{"condition":{"test":"datum.value%500==0","value":-12},"value":-6},"labels":false,"title":null}},"y":{"field":"v","type":"quantitative","scale":{"domain":[-5,105],"nice":false,"zero":false},"axis":{"orient":"right","values":[0,10,20,30,40,50,60,70,80,90,100],"tickSize":{"condition":{"test":"datum.value%20==0","value":-12},"value":-6},"labels":false,"title":null}},"color":{"field":"s","type":"nominal","scale":{"domain":["r","g","b"],"range":["#ff0000","#00ff00","#0000ff"]},"legend":null}}}],"resolve":{"axis":{"x":"independent","y":"independent"}}},
{"width":312.5,"height":315,"layer":[{"data":{"name":"L"},"transform":[{"filter":"datum.p==42"}],"mark":"line","encoding":{"x":{"field":"t","type":"quantitative","scale":{"domain":[0,2000],"nice":false,"zero":false},"axis":{"orient":"bottom","values":[250,500,750,1000,1250,1500,1750],"tickSize":{"condition":{"test":"datum.value%500==0","value":-12},"value":-6},"labels":false,"title":null}},"y":{"field":"v","type":"quantitative","scale":{"domain":[-5,105],"nice":false,"zero":false},"axis":{"orient":"left","values":[0,10,20,30,40,50,60,70,80,90,100],"tickSize":{"condition":{"test":"datum.value%20==0","value":-12},"value":-6},"labels":false,"title":null}},"color":{"field":"s","type":"nominal","scale":{"domain":["r","g","b"],"range":["#ff0000","#00ff00","#0000ff"]},"legend":null},"detail":{"field":"g"}}},{"data":{"name":"P"},"transform":[{"filter":"datum.p==42"}],"mark":"circle","encoding":{"x":{"field":"t","type":"quantitative","scale":{"domain":[0,2000],"nice":false,"zero":false},"axis":{"orient":"top","values":[250,500,750,1000,1250,1500,1750],"tickSize":{"condition":{"test":"datum.value%500==0","value":-12},"value":-6},"labels":false,"title":null}},"y":{"field":"v","type":"quantitative","scale":{"domain":[-5,105],"nice":false,"zero":false},"axis":{"orient":"right","values":[0,10,20,30,40,50,60,70,80,90,100],"tickSize":{"condition":{"test":"datum.value%20==0","value":-12},"value":-6},"labels":false,"title":null}},"color":{"field":"s","type":"nominal","scale":{"domain":["r","g","b"],"range":["#ff0000","#00ff00","#0000ff"]},"legend":null}}},{"data":{"values":[{}]},"mark":{"type":"text","text":"α = 12°"},"encoding":{"x":{"datum":1810,"type":"quantitative","scale":{"domain":[0,2000],"nice":false,"zero":false},"axis":null},"y":{"datum":79,"type":"quantitative","scale":{"domain":[-5,105],"nice":false,"zero":false},"axis":null}}}],"resolve":{"axis":{"x":"independent","y":"independent"}}},
{"width":312.5,"height":315,"layer":[{"data":{"name":"L"},"transform":[{"filter":"datum.p==43"}],"mark":"line","encoding":{"x":{"field":"t","type":"quantitative","scale":{"domain":[0,2000],"nice":false,"zero":false},"axis":{"orient":"bottom","values":[250,500,750,1000,1250,1500,1750],"tickSize":{"condition":{"test":"datum.value%500==0","value":-12},"value":-6},"labels":false,"title":null}},"y":{"field":"v","type":"quantitative","scale":{"domain":[-5,105],"nice":false,"zero":false},"axis":{"orient":"left","values":[0,10,20,30,40,50,60,70,80,90,100],"tickSize":{"condition":{"test":"datum.value%20==0","value":-12},"value":-6},"labels":false,"title":null}},"color":{"field":"s","type":"nominal","scale":{"domain":["r","g","b"],"range":["#ff0000","#00ff00","#0000ff"]},"legend":null},"detail":{"field":"g"}}},{"data":{"name":"P"},"transform":[{"filter":"datum.p==43"}],"mark":"circle","encoding":{"x":{"field":"t","type":"quantitative","scale":{"domain":[0,2000],"nice":false,"zero":false},"axis":{"orient":"top","values":[250,500,750,1000,1250,1500,1750],"tickSize":{"condition":{"test":"datum.value%500==0","value":-12},"value":-6},"labels":false,"title":null}},"y":{"field":"v","type":"quantitative","scale":{"domain":[-5,105],"nice":false,"zero":false},"axis":{"orient":"right","values":[0,10,20,30,40,50,60,70,80,90,100],"tickSize":{"condition":{"test":"datum.value%20==0","value":-12},"value":-6},"labels":false,"title":null}},"color":{"field":"s","type":"nominal","scale":{"domain":["r","g","b"],"range":["#ff0000","#00ff00","#0000ff"]},"legend":null}}},{"data":{"values":[{}]},"mark":{"type":"text","text":"α = 24°"},"encoding":{"x":{"datum":1810,"type":"quantitative","scale":{"domain":[0,2000],"nice":false,"zero":false},"axis":null},"y":{"datum":79,"type":"quantitative","scale":{"domain":[-5,105],"nice":false,"zero":false},"axis":null}}}],"resolve":{"axis":{"x":"independent","y":"independent"}}},
{"width":312.5,"height":315,"layer":[{"data":{"name":"L"},"transform":[{"filter":"datum.p==44"}],"mark":"line","encoding":{"x":{"field":"t","type":"quantitative","scale":{"domain":[0,2000],"nice":false,"zero":false},"axis":{"orient":"bottom","values":[250,500,750,1000,1250,1500,1750],"tickSize":{"condition":{"test":"datum.value%500==0","value":-12},"value":-6},"labels":false,"title":null}},"y":{"field":"v","type":"quantitative","scale":{"domain":[-5,105],"nice":false,"zero":false},"axis":{"orient":"left","values":[0,10,20,30,40,50,60,70,80,90,100],"tickSize":{"condition":{"test":"datum.value%20==0","value":-12},"value":-6},"labels":false,"title":null}},"color":{"field":"s","type":"nominal","scale":{"domain":["r","g","b"],"range":["#ff0000","#00ff00","#0000ff"]},"legend":null},"detail":{"field":"g"}}},{"data":{"name":"P"},"transform":[{"filter":"datum.p==44"}],"mark":"circle","encoding":{"x":{"field":"t","type":"quantitative","scale":{"domain":[0,2000],"nice":false,"zero":false},"axis":{"orient":"top","values":[250,500,750,1000,1250,1500,1750],"tickSize":{"condition":{"test":"datum.value%500==0","value":-12},"value":-6},"labels":false,"title":null}},"y":{"field":"v","type":"quantitative","scale":{"domain":[-5,105],"nice":false,"zero":false},"axis":{"orient":"right","values":[0,10,20,30,40,50,60,70,80,90,100],"tickSize":{"condition":{"test":"datum.value%20==0","value":-12},"value":-6},"labels":false,"title":null}},"color":{"field":"s","type":"nominal","scale":{"domain":["r","g","b"],"range":["#ff0000","#00ff00","#0000ff"]},"legend":null}}},{"data":{"values":[{}]},"mark":{"type":"text","text":"α = 48°"},"encoding":{"x":{"datum":1810,"type":"quantitative","scale":{"domain":[0,2000],"nice":false,"zero":false},"axis":null},"y":{"datum":79,"type":"quantitative","scale":{"domain":[-5,105],"nice":false,"zero":false},"axis":null}}}],"resolve":{"axis":{"x":"independent","y":"independent"}}},
{"width":312.5,"height":315,"layer":[{"data":{"name":"L"},"transform":[{"filter":"datum.p==45"}],"mark":"line","encoding":{"x":{"field":"t","type":"quantitative","scale":{"domain":[0,2000],"nice":false,"zero":false},"axis":{"orient":"bottom","values":[250,500,750,1000,1250,1500,1750],"tickSize":{"condition":{"test":"datum.value%500==0","value":-12},"value":-6},"labels":false,"title":null}},"y":{"field":"v","type":"quantitative","scale":{"domain":[-5,105],"nice":false,"zero":false},"axis":{"orient":"left","values":[0,10,20,30,40,50,60,70,80,90,100],"tickSize":{"condition":{"test":"datum.value%20==0","value":-12},"value":-6},"labels":false,"title":null}},"color":{"field":"s","type":"nominal","scale":{"domain":["r","g","b"],"range":["#ff0000","#00ff00","#0000ff"]},"legend":null},"detail":{"field":"g"}}},{"data":{"name":"P"},"transform":[{"filter":"datum.p==45"}],"mark":"circle","encoding":{"x":{"field":"t","type":"quantitative","scale":{"domain":[0,2000],"nice":false,"zero":false},"axis":{"orient":"top","values":[250,500,750,1000,1250,1500,1750],"tickSize":{"condition":{"test":"datum.value%500==0","value":-12},"value":-6},"labels":false,"title":null}},"y":{"field":"v","type":"quantitative","scale":{"domain":[-5,105],"nice":false,"zero":false},"axis":{"orient":"right","values":[0,10,20,30,40,50,60,70,80,90,100],"tickSize":{"condition":{"test":"datum.value%20==0","value":-12},"value":-6},"labels":false,"title":null}},"color":{"field":"s","type":"nominal","scale":{"domain":["r","g","b"],"range":["#ff0000","#00ff00","#0000ff"]},"legend":null}}},{"data":{"values":[{}]},"mark":{"type":"text","text":"α = 59°"},"encoding":{"x":{"datum":1810,"type":"quantitative","scale":{"domain":[0,2000],"nice":false,"zero":false},"axis":null},"y":{"datum":79,"type":"quantitative","scale":{"domain":[-5,105],"nice":false,"zero":false},"axis":null}}}],"resolve":{"axis":{"x":"independent","y":"independent"}}},
{"width":312.5,"height":315,"layer":[{"data":{"name":"L"},"transform":[{"filter":"datum.p==46"}],"mark":"line","encoding":{"x":{"field":"t","type":"quantitative","scale":{"domain":[0,2000],"nice":false,"zero":false},"axis":{"orient":"bottom","values":[250,500,750,1000,1250,1500,1750],"tickSize":{"condition":{"test":"datum.value%500==0","value":-12},"value":-6},"labels":false,"title":null}},"y":{"field":"v","type":"quantitative","scale":{"domain":[-5,105],"nice":false,"zero":false},"axis":{"orient":"left","values":[0,10,20,30,40,50,60,70,80,90,100],"tickSize":{"condition":{"test":"datum.value%20==0","value":-12},"value":-6},"labels":false,"title":null}},"color":{"field":"s","type":"nominal","scale":{"domain":["r","g","b"],"range":["#ff0000","#00ff00","#0000ff"]},"legend":null},"detail":{"field":"g"}}},{"data":{"name":"P"},"transform":[{"filter":"datum.p==46"}],"mark":"circle","encoding":{"x":{"field":"t","type":"quantitative","scale":{"domain":[0,2000],"nice":false,"zero":false},"axis":{"orient":"top","values":[250,500,750,1000,1250,1500,1750],"tickSize":{"condition":{"test":"datum.value%500==0","value":-12},"value":-6},"labels":false,"title":null}},"y":{"field":"v","type":"quantitative","scale":{"domain":[-5,105],"nice":false,"zero":false},"axis":{"orient":"right","values":[0,10,20,30,40,50,60,70,80,90,100],"tickSize":{"condition":{"test":"datum.value%20==0","value":-12},"value":-6},"labels":false,"title":"2.12","titleAngle":0,"titleAlign":"center","titleBaseline":"alphabetic","titleX":58,"titleY":107}},"color":{"field":"s","type":"nominal","scale":{"domain":["r","g","b"],"range":["#ff0000","#00ff00","#0000ff"]},"legend":null}}}],"resolve":{"axis":{"x":"independent","y":"independent"}}},

{"width":312.5,"height":315,"layer":[{"data":{"name":"L"},"transform":[{"filter":"datum.p==51"}],"mark":"line","encoding":{"x":{"field":"t","type":"quantitative","scale":{"domain":[0,2000],"nice":false,"zero":false},"axis":{"orient":"bottom","values":[250,500,750,1000,1250,1500,1750],"tickSize":{"condition":{"test":"datum.value%500==0","value":-12},"value":-6},"labels":false,"title":null}},"y":{"field":"v","type":"quantitative","scale":{"domain":[-5,105],"nice":false,"zero":false},"axis":{"orient":"left","values":[0,10,20,30,40,50,60,70,80,90,100],"tickSize":{"condition":{"test":"datum.value%20==0","value":-12},"value":-6},"labelExpr":"datum.value%20==0?datum.label:''","title":null}},"color":{"field":"s","type":"nominal","scale":{"domain":["r","g","b"],"range":["#ff0000","#00ff00","#0000ff"]},"legend":null},"detail":{"field":"g"}}},{"data":{"name":"P"},"transform":[{"filter":"datum.p==51"}],"mark":"circle","encoding":{"x":{"field":"t","type":"quantitative","scale":{"domain":[0,2000],"nice":false,"zero":false},"axis":{"orient":"top","values":[250,500,750,1000,1250,1500,1750],"tickSize":{"condition":{"test":"datum.value%500==0","value":-12},"value":-6},"labels":false,"title":null}},"y":{"field":"v","type":"quantitative","scale":{"domain":[-5,105],"nice":false,"zero":false},"axis":{"orient":"right","values":[0,10,20,30,40,50,60,70,80,90,100],"tickSize":{"condition":{"test":"datum.value%20==0","value":-12},"value":-6},"labels":false,"title":null}},"color":{"field":"s","type":"nominal","scale":{"domain":["r","g","b"],"range":["#ff0000","#00ff00","#0000ff"]},"legend":null}}}],"resolve":{"axis":{"x":"independent","y":"independent"}}},
{"width":312.5,"height":315,"layer":[{"data":{"name":"L"},"transform":[{"filter":"datum.p==52"}],"mark":"line","encoding":{"x":{"field":"t","type":"quantitative","scale":{"domain":[0,2000],"nice":false,"zero":false},"axis":{"orient":"bottom","values":[250,500,750,1000,1250,1500,1750],"tickSize":{"condition":{"test":"datum.value%500==0","value":-12},"value":-6},"labels":false,"title":null}},"y":{"field":"v","type":"quantitative","scale":{"domain":[-5,105],"nice":false,"zero":false},"axis":{"orient":"left","values":[0,10,20,30,40,50,60,70,80,90,100],"tickSize":{"condition":{"test":"datum.value%20==0","value":-12},"value":-6},"labels":false,"title":null}},"color":{"field":"s","type":"nominal","scale":{"domain":["r","g","b"],"range":["#ff0000","#00ff00","#0000ff"]},"legend":null},"detail":{"field":"g"}}},{"data":{"name":"P"},"transform":[{"filter":"datum.p==52"}],"mark":"circle","encoding":{"x":{"field":"t","type":"quantitative","scale":{"domain":[0,2000],"nice":false,"zero":false},"axis":{"orient":"top","values":[250,500,750,1000,1250,1500,1750],"tickSize":{"condition":{"test":"datum.value%500==0","value":-12},"value":-6},"labels":false,"title":null}},"y":{"field":"v","type":"quantitative","scale":{"domain":[-5,105],"nice":false,"zero":false},"axis":{"orient":"right","values":[0,10,20,30,40,50,60,70,80,90,100],"tickSize":{"condition":{"test":"datum.value%20==0","value":-12},"value":-6},"labels":false,"title":null}},"color":{"field":"s","type":"nominal","scale":{"domain":["r","g","b"],"range":["#ff0000","#00ff00","#0000ff"]},"legend":null}}},{"data":{"values":[{}]},"mark":{"type":"text","text":"α = 12°"},"encoding":{"x":{"datum":1810,"type":"quantitative","scale":{"domain":[0,2000],"nice":false,"zero":false},"axis":null},"y":{"datum":79,"type":"quantitative","scale":{"domain":[-5,105],"nice":false,"zero":false},"axis":null}}}],"resolve":{"axis":{"x":"independent","y":"independent"}}},
{"width":312.5,"height":315,"layer":[{"data":{"name":"L"},"transform":[{"filter":"datum.p==53"}],"mark":"line","encoding":{"x":{"field":"t","type":"quantitative","scale":{"domain":[0,2000],"nice":false,"zero":false},"axis":{"orient":"bottom","values":[250,500,750,1000,1250,1500,1750],"tickSize":{"condition":{"test":"datum.value%500==0","value":-12},"value":-6},"labels":false,"title":null}},"y":{"field":"v","type":"quantitative","scale":{"domain":[-5,105],"nice":false,"zero":false},"axis":{"orient":"left","values":[0,10,20,30,40,50,60,70,80,90,100],"tickSize":{"condition":{"test":"datum.value%20==0","value":-12},"value":-6},"labels":false,"title":null}},"color":{"field":"s","type":"nominal","scale":{"domain":["r","g","b"],"range":["#ff0000","#00ff00","#0000ff"]},"legend":null},"detail":{"field":"g"}}},{"data":{"name":"P"},"transform":[{"filter":"datum.p==53"}],"mark":"circle","encoding":{"x":{"field":"t","type":"quantitative","scale":{"domain":[0,2000],"nice":false,"zero":false},"axis":{"orient":"top","values":[250,500,750,1000,1250,1500,1750],"tickSize":{"condition":{"test":"datum.value%500==0","value":-12},"value":-6},"labels":false,"title":null}},"y":{"field":"v","type":"quantitative","scale":{"domain":[-5,105],"nice":false,"zero":false},"axis":{"orient":"right","values":[0,10,20,30,40,50,60,70,80,90,100],"tickSize":{"condition":{"test":"datum.value%20==0","value":-12},"value":-6},"labels":false,"title":null}},"color":{"field":"s","type":"nominal","scale":{"domain":["r","g","b"],"range":["#ff0000","#00ff00","#0000ff"]},"legend":null}}},{"data":{"values":[{}]},"mark":{"type":"text","text":"α = 25°"},"encoding":{"x":{"datum":1810,"type":"quantitative","scale":{"domain":[0,2000],"nice":false,"zero":false},"axis":null},"y":{"datum":79,"type":"quantitative","scale":{"domain":[-5,105],"nice":false,"zero":false},"axis":null}}}],"resolve":{"axis":{"x":"independent","y":"independent"}}},
{"width":312.5,"height":315,"layer":[{"data":{"name":"L"},"transform":[{"filter":"datum.p==54"}],"mark":"line","encoding":{"x":{"field":"t","type":"quantitative","scale":{"domain":[0,2000],"nice":false,"zero":false},"axis":{"orient":"bottom","values":[250,500,750,1000,1250,1500,1750],"tickSize":{"condition":{"test":"datum.value%500==0","value":-12},"value":-6},"labels":false,"title":null}},"y":{"field":"v","type":"quantitative","scale":{"domain":[-5,105],"nice":false,"zero":false},"axis":{"orient":"left","values":[0,10,20,30,40,50,60,70,80,90,100],"tickSize":{"condition":{"test":"datum.value%20==0","value":-12},"value":-6},"labels":false,"title":null}},"color":{"field":"s","type":"nominal","scale":{"domain":["r","g","b"],"range":["#ff0000","#00ff00","#0000ff"]},"legend":null},"detail":{"field":"g"}}},{"data":{"name":"P"},"transform":[{"filter":"datum.p==54"}],"mark":"circle","encoding":{"x":{"field":"t","type":"quantitative","scale":{"domain":[0,2000],"nice":false,"zero":false},"axis":{"orient":"top","values":[250,500,750,1000,1250,1500,1750],"tickSize":{"condition":{"test":"datum.value%500==0","value":-12},"value":-6},"labels":false,"title":null}},"y":{"field":"v","type":"quantitative","scale":{"domain":[-5,105],"nice":false,"zero":false},"axis":{"orient":"right","values":[0,10,20,30,40,50,60,70,80,90,100],"tickSize":{"condition":{"test":"datum.value%20==0","value":-12},"value":-6},"labels":false,"title":null}},"color":{"field":"s","type":"nominal","scale":{"domain":["r","g","b"],"range":["#ff0000","#00ff00","#0000ff"]},"legend":null}}},{"data":{"values":[{}]},"mark":{"type":"text","text":"α = 51°"},"encoding":{"x":{"datum":1810,"type":"quantitative","scale":{"domain":[0,2000],"nice":false,"zero":false},"axis":null},"y":{"datum":79,"type":"quantitative","scale":{"domain":[-5,105],"nice":false,"zero":false},"axis":null}}}],"resolve":{"axis":{"x":"independent","y":"independent"}}},
{"width":312.5,"height":315,"layer":[{"data":{"name":"L"},"transform":[{"filter":"datum.p==55"}],"mark":"line","encoding":{"x":{"field":"t","type":"quantitative","scale":{"domain":[0,2000],"nice":false,"zero":false},"axis":{"orient":"bottom","values":[250,500,750,1000,1250,1500,1750],"tickSize":{"condition":{"test":"datum.value%500==0","value":-12},"value":-6},"labels":false,"title":null}},"y":{"field":"v","type":"quantitative","scale":{"domain":[-5,105],"nice":false,"zero":false},"axis":{"orient":"left","values":[0,10,20,30,40,50,60,70,80,90,100],"tickSize":{"condition":{"test":"datum.value%20==0","value":-12},"value":-6},"labels":false,"title":null}},"color":{"field":"s","type":"nominal","scale":{"domain":["r","g","b"],"range":["#ff0000","#00ff00","#0000ff"]},"legend":null},"detail":{"field":"g"}}},{"data":{"name":"P"},"transform":[{"filter":"datum.p==55"}],"mark":"circle","encoding":{"x":{"field":"t","type":"quantitative","scale":{"domain":[0,2000],"nice":false,"zero":false},"axis":{"orient":"top","values":[250,500,750,1000,1250,1500,1750],"tickSize":{"condition":{"test":"datum.value%500==0","value":-12},"value":-6},"labels":false,"title":null}},"y":{"field":"v","type":"quantitative","scale":{"domain":[-5,105],"nice":false,"zero":false},"axis":{"orient":"right","values":[0,10,20,30,40,50,60,70,80,90,100],"tickSize":{"condition":{"test":"datum.value%20==0","value":-12},"value":-6},"labels":false,"title":null}},"color":{"field":"s","type":"nominal","scale":{"domain":["r","g","b"],"range":["#ff0000","#00ff00","#0000ff"]},"legend":null}}},{"data":{"values":[{}]},"mark":{"type":"text","text":"α = 65°"},"encoding":{"x":{"datum":1810,"type":"quantitative","scale":{"domain":[0,2000],"nice":false,"zero":false},"axis":null},"y":{"datum":79,"type":"quantitative","scale":{"domain":[-5,105],"nice":false,"zero":false},"axis":null}}}],"resolve":{"axis":{"x":"independent","y":"independent"}}},
{"width":312.5,"height":315,"layer":[{"data":{"name":"L"},"transform":[{"filter":"datum.p==56"}],"mark":"line","encoding":{"x":{"field":"t","type":"quantitative","scale":{"domain":[0,2000],"nice":false,"zero":false},"axis":{"orient":"bottom","values":[250,500,750,1000,1250,1500,1750],"tickSize":{"condition":{"test":"datum.value%500==0","value":-12},"value":-6},"labels":false,"title":null}},"y":{"field":"v","type":"quantitative","scale":{"domain":[-5,105],"nice":false,"zero":false},"axis":{"orient":"left","values":[0,10,20,30,40,50,60,70,80,90,100],"tickSize":{"condition":{"test":"datum.value%20==0","value":-12},"value":-6},"labels":false,"title":null}},"color":{"field":"s","type":"nominal","scale":{"domain":["r","g","b"],"range":["#ff0000","#00ff00","#0000ff"]},"legend":null},"detail":{"field":"g"}}},{"data":{"name":"P"},"transform":[{"filter":"datum.p==56"}],"mark":"circle","encoding":{"x":{"field":"t","type":"quantitative","scale":{"domain":[0,2000],"nice":false,"zero":false},"axis":{"orient":"top","values":[250,500,750,1000,1250,1500,1750],"tickSize":{"condition":{"test":"datum.value%500==0","value":-12},"value":-6},"labels":false,"title":null}},"y":{"field":"v","type":"quantitative","scale":{"domain":[-5,105],"nice":false,"zero":false},"axis":{"orient":"right","values":[0,10,20,30,40,50,60,70,80,90,100],"tickSize":{"condition":{"test":"datum.value%20==0","value":-12},"value":-6},"labels":false,"title":"3.03","titleAngle":0,"titleAlign":"center","titleBaseline":"alphabetic","titleX":58,"titleY":107}},"color":{"field":"s","type":"nominal","scale":{"domain":["r","g","b"],"range":["#ff0000","#00ff00","#0000ff"]},"legend":null}}}],"resolve":{"axis":{"x":"independent","y":"independent"}}},

{"width":312.5,"height":315,"layer":[{"data":{"name":"L"},"transform":[{"filter":"datum.p==61"}],"mark":"line","encoding":{"x":{"field":"t","type":"quantitative","scale":{"domain":[0,2000],"nice":false,"zero":false},"axis":{"orient":"bottom","values":[250,500,750,1000,1250,1500,1750],"tickSize":{"condition":{"test":"datum.value%500==0","value":-12},"value":-6},"labels":false,"title":null}},"y":{"field":"v","type":"quantitative","scale":{"domain":[-5,105],"nice":false,"zero":false},"axis":{"orient":"left","values":[0,10,20,30,40,50,60,70,80,90,100],"tickSize":{"condition":{"test":"datum.value%20==0","value":-12},"value":-6},"labelExpr":"datum.value%20==0?datum.label:''","title":null}},"color":{"field":"s","type":"nominal","scale":{"domain":["r","g","b"],"range":["#ff0000","#00ff00","#0000ff"]},"legend":null},"detail":{"field":"g"}}},{"data":{"name":"P"},"transform":[{"filter":"datum.p==61"}],"mark":"circle","encoding":{"x":{"field":"t","type":"quantitative","scale":{"domain":[0,2000],"nice":false,"zero":false},"axis":{"orient":"top","values":[250,500,750,1000,1250,1500,1750],"tickSize":{"condition":{"test":"datum.value%500==0","value":-12},"value":-6},"labels":false,"title":null}},"y":{"field":"v","type":"quantitative","scale":{"domain":[-5,105],"nice":false,"zero":false},"axis":{"orient":"right","values":[0,10,20,30,40,50,60,70,80,90,100],"tickSize":{"condition":{"test":"datum.value%20==0","value":-12},"value":-6},"labels":false,"title":null}},"color":{"field":"s","type":"nominal","scale":{"domain":["r","g","b"],"range":["#ff0000","#00ff00","#0000ff"]},"legend":null}}}],"resolve":{"axis":{"x":"independent","y":"independent"}}},
{"width":312.5,"height":315,"layer":[{"data":{"name":"L"},"transform":[{"filter":"datum.p==62"}],"mark":"line","encoding":{"x":{"field":"t","type":"quantitative","scale":{"domain":[0,2000],"nice":false,"zero":false},"axis":{"orient":"bottom","values":[250,500,750,1000,1250,1500,1750],"tickSize":{"condition":{"test":"datum.value%500==0","value":-12},"value":-6},"labels":false,"title":null}},"y":{"field":"v","type":"quantitative","scale":{"domain":[-5,105],"nice":false,"zero":false},"axis":{"orient":"left","values":[0,10,20,30,40,50,60,70,80,90,100],"tickSize":{"condition":{"test":"datum.value%20==0","value":-12},"value":-6},"labels":false,"title":null}},"color":{"field":"s","type":"nominal","scale":{"domain":["r","g","b"],"range":["#ff0000","#00ff00","#0000ff"]},"legend":null},"detail":{"field":"g"}}},{"data":{"name":"P"},"transform":[{"filter":"datum.p==62"}],"mark":"circle","encoding":{"x":{"field":"t","type":"quantitative","scale":{"domain":[0,2000],"nice":false,"zero":false},"axis":{"orient":"top","values":[250,500,750,1000,1250,1500,1750],"tickSize":{"condition":{"test":"datum.value%500==0","value":-12},"value":-6},"labels":false,"title":null}},"y":{"field":"v","type":"quantitative","scale":{"domain":[-5,105],"nice":false,"zero":false},"axis":{"orient":"right","values":[0,10,20,30,40,50,60,70,80,90,100],"tickSize":{"condition":{"test":"datum.value%20==0","value":-12},"value":-6},"labels":false,"title":null}},"color":{"field":"s","type":"nominal","scale":{"domain":["r","g","b"],"range":["#ff0000","#00ff00","#0000ff"]},"legend":null}}},{"data":{"values":[{}]},"mark":{"type":"text","text":"α = 13°"},"encoding":{"x":{"datum":1810,"type":"quantitative","scale":{"domain":[0,2000],"nice":false,"zero":false},"axis":null},"y":{"datum":79,"type":"quantitative","scale":{"domain":[-5,105],"nice":false,"zero":false},"axis":null}}}],"resolve":{"axis":{"x":"independent","y":"independent"}}},
{"width":312.5,"height":315,"layer":[{"data":{"name":"L"},"transform":[{"filter":"datum.p==63"}],"mark":"line","encoding":{"x":{"field":"t","type":"quantitative","scale":{"domain":[0,2000],"nice":false,"zero":false},"axis":{"orient":"bottom","values":[250,500,750,1000,1250,1500,1750],"tickSize":{"condition":{"test":"datum.value%500==0","value":-12},"value":-6},"labels":false,"title":null}},"y":{"field":"v","type":"quantitative","scale":{"domain":[-5,105],"nice":false,"zero":false},"axis":{"orient":"left","values":[0,10,20,30,40,50,60,70,80,90,100],"tickSize":{"condition":{"test":"datum.value%20==0","value":-12},"value":-6},"labels":false,"title":null}},"color":{"field":"s","type":"nominal","scale":{"domain":["r","g","b"],"range":["#ff0000","#00ff00","#0000ff"]},"legend":null},"detail":{"field":"g"}}},{"data":{"name":"P"},"transform":[{"filter":"datum.p==63"}],"mark":"circle","encoding":{"x":{"field":"t","type":"quantitative","scale":{"domain":[0,2000],"nice":false,"zero":false},"axis":{"orient":"top","values":[250,500,750,1000,1250,1500,1750],"tickSize":{"condition":{"test":"datum.value%500==0","value":-12},"value":-6},"labels":false,"title":null}},"y":{"field":"v","type":"quantitative","scale":{"domain":[-5,105],"nice":false,"zero":false},"axis":{"orient":"right","values":[0,10,20,30,40,50,60,70,80,90,100],"tickSize":{"condition":{"test":"datum.value%20==0","value":-12},"value":-6},"labels":false,"title":null}},"color":{"field":"s","type":"nominal","scale":{"domain":["r","g","b"],"range":["#ff0000","#00ff00","#0000ff"]},"legend":null}}},{"data":{"values":[{}]},"mark":{"type":"text","text":"α = 27°"},"encoding":{"x":{"datum":1810,"type":"quantitative","scale":{"domain":[0,2000],"nice":false,"zero":false},"axis":null},"y":{"datum":79,"type":"quantitative","scale":{"domain":[-5,105],"nice":false,"zero":false},"axis":null}}}],"resolve":{"axis":{"x":"independent","y":"independent"}}},
{"width":312.5,"height":315,"layer":[{"data":{"name":"L"},"transform":[{"filter":"datum.p==64"}],"mark":"line","encoding":{"x":{"field":"t","type":"quantitative","scale":{"domain":[0,2000],"nice":false,"zero":false},"axis":{"orient":"bottom","values":[250,500,750,1000,1250,1500,1750],"tickSize":{"condition":{"test":"datum.value%500==0","value":-12},"value":-6},"labels":false,"title":null}},"y":{"field":"v","type":"quantitative","scale":{"domain":[-5,105],"nice":false,"zero":false},"axis":{"orient":"left","values":[0,10,20,30,40,50,60,70,80,90,100],"tickSize":{"condition":{"test":"datum.value%20==0","value":-12},"value":-6},"labels":false,"title":null}},"color":{"field":"s","type":"nominal","scale":{"domain":["r","g","b"],"range":["#ff0000","#00ff00","#0000ff"]},"legend":null},"detail":{"field":"g"}}},{"data":{"name":"P"},"transform":[{"filter":"datum.p==64"}],"mark":"circle","encoding":{"x":{"field":"t","type":"quantitative","scale":{"domain":[0,2000],"nice":false,"zero":false},"axis":{"orient":"top","values":[250,500,750,1000,1250,1500,1750],"tickSize":{"condition":{"test":"datum.value%500==0","value":-12},"value":-6},"labels":false,"title":null}},"y":{"field":"v","type":"quantitative","scale":{"domain":[-5,105],"nice":false,"zero":false},"axis":{"orient":"right","values":[0,10,20,30,40,50,60,70,80,90,100],"tickSize":{"condition":{"test":"datum.value%20==0","value":-12},"value":-6},"labels":false,"title":null}},"color":{"field":"s","type":"nominal","scale":{"domain":["r","g","b"],"range":["#ff0000","#00ff00","#0000ff"]},"legend":null}}},{"data":{"values":[{}]},"mark":{"type":"text","text":"α = 55°"},"encoding":{"x":{"datum":1810,"type":"quantitative","scale":{"domain":[0,2000],"nice":false,"zero":false},"axis":null},"y":{"datum":79,"type":"quantitative","scale":{"domain":[-5,105],"nice":false,"zero":false},"axis":null}}}],"resolve":{"axis":{"x":"independent","y":"independent"}}},
{"width":312.5,"height":315,"layer":[{"data":{"name":"L"},"transform":[{"filter":"datum.p==65"}],"mark":"line","encoding":{"x":{"field":"t","type":"quantitative","scale":{"domain":[0,2000],"nice":false,"zero":false},"axis":{"orient":"bottom","values":[250,500,750,1000,1250,1500,1750],"tickSize":{"condition":{"test":"datum.value%500==0","value":-12},"value":-6},"labels":false,"title":null}},"y":{"field":"v","type":"quantitative","scale":{"domain":[-5,105],"nice":false,"zero":false},"axis":{"orient":"left","values":[0,10,20,30,40,50,60,70,80,90,100],"tickSize":{"condition":{"test":"datum.value%20==0","value":-12},"value":-6},"labels":false,"title":null}},"color":{"field":"s","type":"nominal","scale":{"domain":["r","g","b"],"range":["#ff0000","#00ff00","#0000ff"]},"legend":null},"detail":{"field":"g"}}},{"data":{"name":"P"},"transform":[{"filter":"datum.p==65"}],"mark":"circle","encoding":{"x":{"field":"t","type":"quantitative","scale":{"domain":[0,2000],"nice":false,"zero":false},"axis":{"orient":"top","values":[250,500,750,1000,1250,1500,1750],"tickSize":{"condition":{"test":"datum.value%500==0","value":-12},"value":-6},"labels":false,"title":null}},"y":{"field":"v","type":"quantitative","scale":{"domain":[-5,105],"nice":false,"zero":false},"axis":{"orient":"right","values":[0,10,20,30,40,50,60,70,80,90,100],"tickSize":{"condition":{"test":"datum.value%20==0","value":-12},"value":-6},"labels":false,"title":null}},"color":{"field":"s","type":"nominal","scale":{"domain":["r","g","b"],"range":["#ff0000","#00ff00","#0000ff"]},"legend":null}}},{"data":{"values":[{}]},"mark":{"type":"text","text":"α = 69°"},"encoding":{"x":{"datum":1810,"type":"quantitative","scale":{"domain":[0,2000],"nice":false,"zero":false},"axis":null},"y":{"datum":79,"type":"quantitative","scale":{"domain":[-5,105],"nice":false,"zero":false},"axis":null}}}],"resolve":{"axis":{"x":"independent","y":"independent"}}},
{"width":312.5,"height":315,"layer":[{"data":{"name":"L"},"transform":[{"filter":"datum.p==66"}],"mark":"line","encoding":{"x":{"field":"t","type":"quantitative","scale":{"domain":[0,2000],"nice":false,"zero":false},"axis":{"orient":"bottom","values":[250,500,750,1000,1250,1500,1750],"tickSize":{"condition":{"test":"datum.value%500==0","value":-12},"value":-6},"labels":false,"title":null}},"y":{"field":"v","type":"quantitative","scale":{"domain":[-5,105],"nice":false,"zero":false},"axis":{"orient":"left","values":[0,10,20,30,40,50,60,70,80,90,100],"tickSize":{"condition":{"test":"datum.value%20==0","value":-12},"value":-6},"labels":false,"title":null}},"color":{"field":"s","type":"nominal","scale":{"domain":["r","g","b"],"range":["#ff0000","#00ff00","#0000ff"]},"legend":null},"detail":{"field":"g"}}},{"data":{"name":"P"},"transform":[{"filter":"datum.p==66"}],"mark":"circle","encoding":{"x":{"field":"t","type":"quantitative","scale":{"domain":[0,2000],"nice":false,"zero":false},"axis":{"orient":"top","values":[250,500,750,1000,1250,1500,1750],"tickSize":{"condition":{"test":"datum.value%500==0","value":-12},"value":-6},"labels":false,"title":null}},"y":{"field":"v","type":"quantitative","scale":{"domain":[-5,105],"nice":false,"zero":false},"axis":{"orient":"right","values":[0,10,20,30,40,50,60,70,80,90,100],"tickSize":{"condition":{"test":"datum.value%20==0","value":-12},"value":-6},"labels":false,"title":"3.97","titleAngle":0,"titleAlign":"center","titleBaseline":"alphabetic","titleX":58,"titleY":107}},"color":{"field":"s","type":"nominal","scale":{"domain":["r","g","b"],"range":["#ff0000","#00ff00","#0000ff"]},"legend":null}}}],"resolve":{"axis":{"x":"independent","y":"independent"}}},

{"width":312.5,"height":315,"layer":[{"data":{"name":"L"},"transform":[{"filter":"datum.p==71"}],"mark":"line","encoding":{"x":{"field":"t","type":"quantitative","scale":{"domain":[0,2000],"nice":false,"zero":false},"axis":{"orient":"bottom","values":[250,500,750,1000,1250,1500,1750],"tickSize":{"condition":{"test":"datum.value%500==0","value":-12},"value":-6},"labelExpr":"datum.value==500?'500':datum.value==1500?'1500':''","title":"t [min]","titleX":156,"titleY":95,"titleBaseline":"alphabetic","titleAlign":"center","titleAngle":0}},"y":{"field":"v","type":"quantitative","scale":{"domain":[-5,105],"nice":false,"zero":false},"axis":{"orient":"left","values":[0,10,20,30,40,50,60,70,80,90,100],"tickSize":{"condition":{"test":"datum.value%20==0","value":-12},"value":-6},"labelExpr":"datum.value%20==0?datum.label:''","title":null}},"color":{"field":"s","type":"nominal","scale":{"domain":["r","g","b"],"range":["#ff0000","#00ff00","#0000ff"]},"legend":null},"detail":{"field":"g"}}},{"data":{"name":"P"},"transform":[{"filter":"datum.p==71"}],"mark":"circle","encoding":{"x":{"field":"t","type":"quantitative","scale":{"domain":[0,2000],"nice":false,"zero":false},"axis":{"orient":"top","values":[250,500,750,1000,1250,1500,1750],"tickSize":{"condition":{"test":"datum.value%500==0","value":-12},"value":-6},"labels":false,"title":null}},"y":{"field":"v","type":"quantitative","scale":{"domain":[-5,105],"nice":false,"zero":false},"axis":{"orient":"right","values":[0,10,20,30,40,50,60,70,80,90,100],"tickSize":{"condition":{"test":"datum.value%20==0","value":-12},"value":-6},"labels":false,"title":null}},"color":{"field":"s","type":"nominal","scale":{"domain":["r","g","b"],"range":["#ff0000","#00ff00","#0000ff"]},"legend":null}}}],"resolve":{"axis":{"x":"independent","y":"independent"}}},
{"width":312.5,"height":315,"layer":[{"data":{"name":"L"},"transform":[{"filter":"datum.p==72"}],"mark":"line","encoding":{"x":{"field":"t","type":"quantitative","scale":{"domain":[0,2000],"nice":false,"zero":false},"axis":{"orient":"bottom","values":[250,500,750,1000,1250,1500,1750],"tickSize":{"condition":{"test":"datum.value%500==0","value":-12},"value":-6},"labelExpr":"datum.value==500?'500':datum.value==1500?'1500':''","title":"t [min]","titleX":156,"titleY":95,"titleBaseline":"alphabetic","titleAlign":"center","titleAngle":0}},"y":{"field":"v","type":"quantitative","scale":{"domain":[-5,105],"nice":false,"zero":false},"axis":{"orient":"left","values":[0,10,20,30,40,50,60,70,80,90,100],"tickSize":{"condition":{"test":"datum.value%20==0","value":-12},"value":-6},"labels":false,"title":null}},"color":{"field":"s","type":"nominal","scale":{"domain":["r","g","b"],"range":["#ff0000","#00ff00","#0000ff"]},"legend":null},"detail":{"field":"g"}}},{"data":{"name":"P"},"transform":[{"filter":"datum.p==72"}],"mark":"circle","encoding":{"x":{"field":"t","type":"quantitative","scale":{"domain":[0,2000],"nice":false,"zero":false},"axis":{"orient":"top","values":[250,500,750,1000,1250,1500,1750],"tickSize":{"condition":{"test":"datum.value%500==0","value":-12},"value":-6},"labels":false,"title":null}},"y":{"field":"v","type":"quantitative","scale":{"domain":[-5,105],"nice":false,"zero":false},"axis":{"orient":"right","values":[0,10,20,30,40,50,60,70,80,90,100],"tickSize":{"condition":{"test":"datum.value%20==0","value":-12},"value":-6},"labels":false,"title":null}},"color":{"field":"s","type":"nominal","scale":{"domain":["r","g","b"],"range":["#ff0000","#00ff00","#0000ff"]},"legend":null}}},{"data":{"values":[{}]},"mark":{"type":"text","text":"α = 13°"},"encoding":{"x":{"datum":1810,"type":"quantitative","scale":{"domain":[0,2000],"nice":false,"zero":false},"axis":null},"y":{"datum":79,"type":"quantitative","scale":{"domain":[-5,105],"nice":false,"zero":false},"axis":null}}}],"resolve":{"axis":{"x":"independent","y":"independent"}}},
{"width":312.5,"height":315,"layer":[{"data":{"name":"L"},"transform":[{"filter":"datum.p==73"}],"mark":"line","encoding":{"x":{"field":"t","type":"quantitative","scale":{"domain":[0,2000],"nice":false,"zero":false},"axis":{"orient":"bottom","values":[250,500,750,1000,1250,1500,1750],"tickSize":{"condition":{"test":"datum.value%500==0","value":-12},"value":-6},"labelExpr":"datum.value==500?'500':datum.value==1500?'1500':''","title":"t [min]","titleX":156,"titleY":95,"titleBaseline":"alphabetic","titleAlign":"center","titleAngle":0}},"y":{"field":"v","type":"quantitative","scale":{"domain":[-5,105],"nice":false,"zero":false},"axis":{"orient":"left","values":[0,10,20,30,40,50,60,70,80,90,100],"tickSize":{"condition":{"test":"datum.value%20==0","value":-12},"value":-6},"labels":false,"title":null}},"color":{"field":"s","type":"nominal","scale":{"domain":["r","g","b"],"range":["#ff0000","#00ff00","#0000ff"]},"legend":null},"detail":{"field":"g"}}},{"data":{"name":"P"},"transform":[{"filter":"datum.p==73"}],"mark":"circle","encoding":{"x":{"field":"t","type":"quantitative","scale":{"domain":[0,2000],"nice":false,"zero":false},"axis":{"orient":"top","values":[250,500,750,1000,1250,1500,1750],"tickSize":{"condition":{"test":"datum.value%500==0","value":-12},"value":-6},"labels":false,"title":null}},"y":{"field":"v","type":"quantitative","scale":{"domain":[-5,105],"nice":false,"zero":false},"axis":{"orient":"right","values":[0,10,20,30,40,50,60,70,80,90,100],"tickSize":{"condition":{"test":"datum.value%20==0","value":-12},"value":-6},"labels":false,"title":null}},"color":{"field":"s","type":"nominal","scale":{"domain":["r","g","b"],"range":["#ff0000","#00ff00","#0000ff"]},"legend":null}}},{"data":{"values":[{}]},"mark":{"type":"text","text":"α = 28°"},"encoding":{"x":{"datum":1810,"type":"quantitative","scale":{"domain":[0,2000],"nice":false,"zero":false},"axis":null},"y":{"datum":79,"type":"quantitative","scale":{"domain":[-5,105],"nice":false,"zero":false},"axis":null}}}],"resolve":{"axis":{"x":"independent","y":"independent"}}},
{"width":312.5,"height":315,"layer":[{"data":{"name":"L"},"transform":[{"filter":"datum.p==74"}],"mark":"line","encoding":{"x":{"field":"t","type":"quantitative","scale":{"domain":[0,2000],"nice":false,"zero":false},"axis":{"orient":"bottom","values":[250,500,750,1000,1250,1500,1750],"tickSize":{"condition":{"test":"datum.value%500==0","value":-12},"value":-6},"labelExpr":"datum.value==500?'500':datum.value==1500?'1500':''","title":"t [min]","titleX":156,"titleY":95,"titleBaseline":"alphabetic","titleAlign":"center","titleAngle":0}},"y":{"field":"v","type":"quantitative","scale":{"domain":[-5,105],"nice":false,"zero":false},"axis":{"orient":"left","values":[0,10,20,30,40,50,60,70,80,90,100],"tickSize":{"condition":{"test":"datum.value%20==0","value":-12},"value":-6},"labels":false,"title":null}},"color":{"field":"s","type":"nominal","scale":{"domain":["r","g","b"],"range":["#ff0000","#00ff00","#0000ff"]},"legend":null},"detail":{"field":"g"}}},{"data":{"name":"P"},"transform":[{"filter":"datum.p==74"}],"mark":"circle","encoding":{"x":{"field":"t","type":"quantitative","scale":{"domain":[0,2000],"nice":false,"zero":false},"axis":{"orient":"top","values":[250,500,750,1000,1250,1500,1750],"tickSize":{"condition":{"test":"datum.value%500==0","value":-12},"value":-6},"labels":false,"title":null}},"y":{"field":"v","type":"quantitative","scale":{"domain":[-5,105],"nice":false,"zero":false},"axis":{"orient":"right","values":[0,10,20,30,40,50,60,70,80,90,100],"tickSize":{"condition":{"test":"datum.value%20==0","value":-12},"value":-6},"labels":false,"title":null}},"color":{"field":"s","type":"nominal","scale":{"domain":["r","g","b"],"range":["#ff0000","#00ff00","#0000ff"]},"legend":null}}},{"data":{"values":[{}]},"mark":{"type":"text","text":"α = 58°"},"encoding":{"x":{"datum":1810,"type":"quantitative","scale":{"domain":[0,2000],"nice":false,"zero":false},"axis":null},"y":{"datum":79,"type":"quantitative","scale":{"domain":[-5,105],"nice":false,"zero":false},"axis":null}}}],"resolve":{"axis":{"x":"independent","y":"independent"}}},
{"width":312.5,"height":315,"layer":[{"data":{"name":"L"},"transform":[{"filter":"datum.p==75"}],"mark":"line","encoding":{"x":{"field":"t","type":"quantitative","scale":{"domain":[0,2000],"nice":false,"zero":false},"axis":{"orient":"bottom","values":[250,500,750,1000,1250,1500,1750],"tickSize":{"condition":{"test":"datum.value%500==0","value":-12},"value":-6},"labelExpr":"datum.value==500?'500':datum.value==1500?'1500':''","title":"t [min]","titleX":156,"titleY":95,"titleBaseline":"alphabetic","titleAlign":"center","titleAngle":0}},"y":{"field":"v","type":"quantitative","scale":{"domain":[-5,105],"nice":false,"zero":false},"axis":{"orient":"left","values":[0,10,20,30,40,50,60,70,80,90,100],"tickSize":{"condition":{"test":"datum.value%20==0","value":-12},"value":-6},"labels":false,"title":null}},"color":{"field":"s","type":"nominal","scale":{"domain":["r","g","b"],"range":["#ff0000","#00ff00","#0000ff"]},"legend":null},"detail":{"field":"g"}}},{"data":{"name":"P"},"transform":[{"filter":"datum.p==75"}],"mark":"circle","encoding":{"x":{"field":"t","type":"quantitative","scale":{"domain":[0,2000],"nice":false,"zero":false},"axis":{"orient":"top","values":[250,500,750,1000,1250,1500,1750],"tickSize":{"condition":{"test":"datum.value%500==0","value":-12},"value":-6},"labels":false,"title":null}},"y":{"field":"v","type":"quantitative","scale":{"domain":[-5,105],"nice":false,"zero":false},"axis":{"orient":"right","values":[0,10,20,30,40,50,60,70,80,90,100],"tickSize":{"condition":{"test":"datum.value%20==0","value":-12},"value":-6},"labels":false,"title":null}},"color":{"field":"s","type":"nominal","scale":{"domain":["r","g","b"],"range":["#ff0000","#00ff00","#0000ff"]},"legend":null}}},{"data":{"values":[{}]},"mark":{"type":"text","text":"α = 72°"},"encoding":{"x":{"datum":1810,"type":"quantitative","scale":{"domain":[0,2000],"nice":false,"zero":false},"axis":null},"y":{"datum":79,"type":"quantitative","scale":{"domain":[-5,105],"nice":false,"zero":false},"axis":null}}}],"resolve":{"axis":{"x":"independent","y":"independent"}}},
{"width":312.5,"height":315,"layer":[{"data":{"name":"L"},"transform":[{"filter":"datum.p==76"}],"mark":"line","encoding":{"x":{"field":"t","type":"quantitative","scale":{"domain":[0,2000],"nice":false,"zero":false},"axis":{"orient":"bottom","values":[250,500,750,1000,1250,1500,1750],"tickSize":{"condition":{"test":"datum.value%500==0","value":-12},"value":-6},"labelExpr":"datum.value==500?'500':datum.value==1500?'1500':''","title":"t [min]","titleX":156,"titleY":95,"titleBaseline":"alphabetic","titleAlign":"center","titleAngle":0}},"y":{"field":"v","type":"quantitative","scale":{"domain":[-5,105],"nice":false,"zero":false},"axis":{"orient":"left","values":[0,10,20,30,40,50,60,70,80,90,100],"tickSize":{"condition":{"test":"datum.value%20==0","value":-12},"value":-6},"labels":false,"title":null}},"color":{"field":"s","type":"nominal","scale":{"domain":["r","g","b"],"range":["#ff0000","#00ff00","#0000ff"]},"legend":null},"detail":{"field":"g"}}},{"data":{"name":"P"},"transform":[{"filter":"datum.p==76"}],"mark":"circle","encoding":{"x":{"field":"t","type":"quantitative","scale":{"domain":[0,2000],"nice":false,"zero":false},"axis":{"orient":"top","values":[250,500,750,1000,1250,1500,1750],"tickSize":{"condition":{"test":"datum.value%500==0","value":-12},"value":-6},"labels":false,"title":null}},"y":{"field":"v","type":"quantitative","scale":{"domain":[-5,105],"nice":false,"zero":false},"axis":{"orient":"right","values":[0,10,20,30,40,50,60,70,80,90,100],"tickSize":{"condition":{"test":"datum.value%20==0","value":-12},"value":-6},"labels":false,"title":"5.88","titleAngle":0,"titleAlign":"center","titleBaseline":"alphabetic","titleX":58,"titleY":107}},"color":{"field":"s","type":"nominal","scale":{"domain":["r","g","b"],"range":["#ff0000","#00ff00","#0000ff"]},"legend":null}}}],"resolve":{"axis":{"x":"independent","y":"independent"}}}
]
}
